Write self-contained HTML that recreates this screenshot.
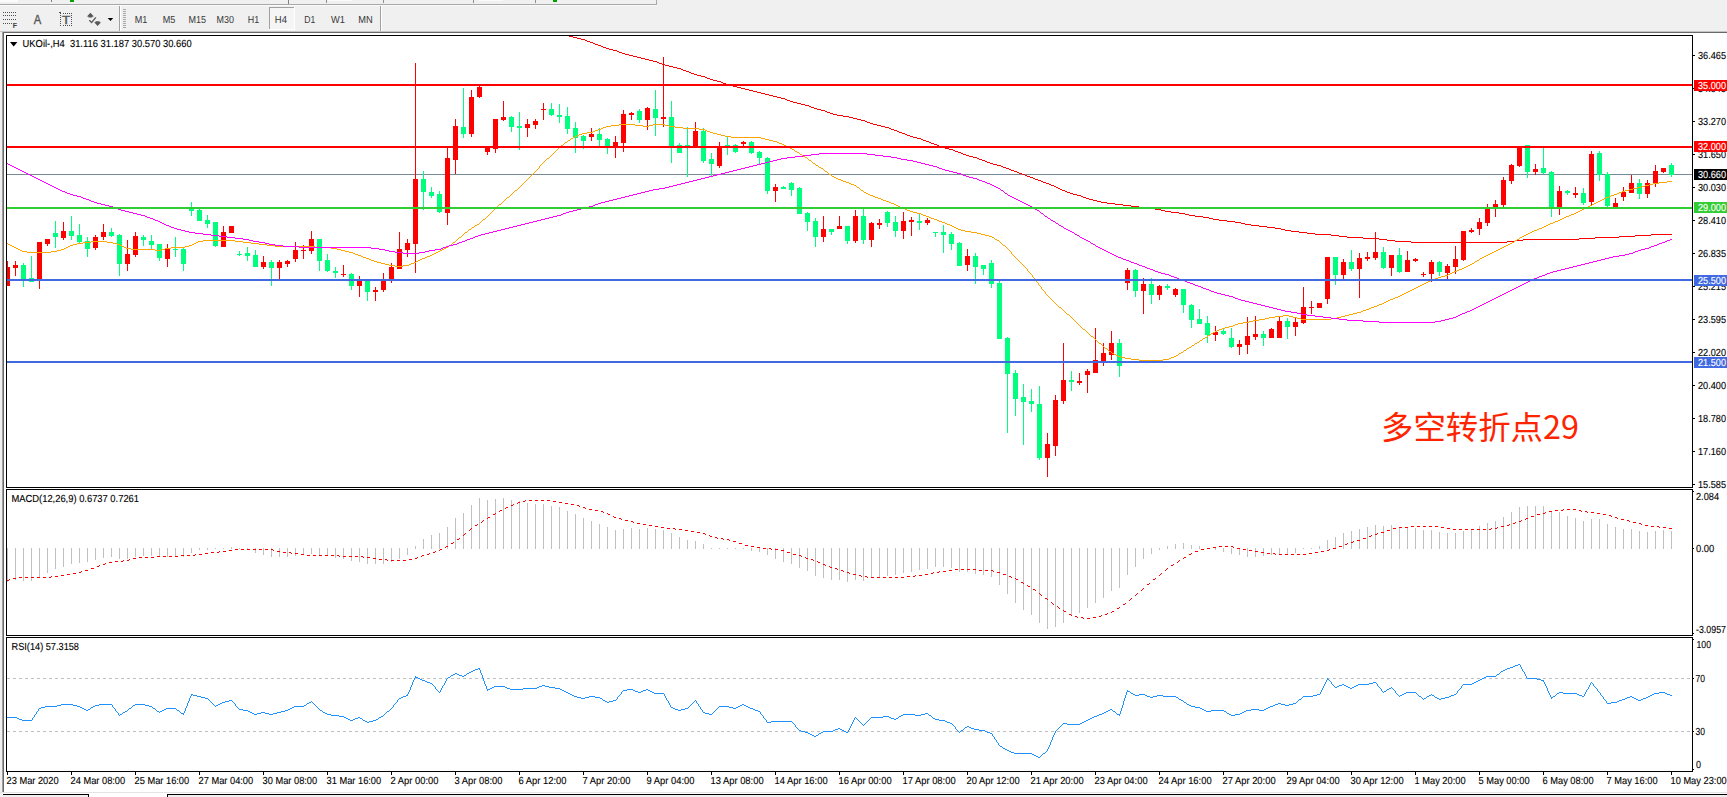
<!DOCTYPE html>
<html lang="zh"><head><meta charset="utf-8"><title>UKOil H4</title>
<style>html,body{margin:0;padding:0;background:#f0f0f0;overflow:hidden}svg{display:block}text{font-family:"Liberation Sans", "Noto Sans CJK SC", sans-serif;}.s{font-size:10.2px;fill:#000;stroke:#000;stroke-width:0.12px;text-rendering:geometricPrecision}.tb{font-size:10.2px;fill:#383838;text-rendering:geometricPrecision}</style></head><body>
<svg width="1727" height="797" viewBox="0 0 1727 797">
<rect x="0" y="0" width="1727" height="797" fill="#f0f0f0"/>
<g shape-rendering="crispEdges">
<rect x="0" y="4" width="657" height="1" fill="#a8a8a8"/>
<rect x="0" y="5" width="657" height="1" fill="#fafafa"/>
<rect x="656" y="0" width="1" height="5" fill="#a8a8a8"/>
<rect x="0" y="0" width="18" height="2" fill="#fbfbfb"/>
<rect x="51" y="0" width="1" height="2" fill="#808080"/>
<rect x="70" y="0" width="4" height="2" fill="#00a000"/>
<rect x="288" y="0" width="1" height="4" fill="#808080"/>
<rect x="326" y="0" width="1" height="3" fill="#909090"/>
<rect x="383" y="0" width="1" height="3" fill="#909090"/>
<rect x="473" y="0" width="1" height="3" fill="#909090"/>
<rect x="535" y="0" width="1" height="3" fill="#909090"/>
<rect x="328" y="0" width="24" height="1" fill="#fbfbfb"/>
<rect x="479" y="0" width="24" height="1" fill="#fbfbfb"/>
<rect x="553" y="0" width="4" height="2" fill="#00a000"/>
<rect x="119" y="6" width="1" height="25" fill="#a0a0a0"/>
<rect x="120" y="6" width="1" height="25" fill="#ffffff"/>
<rect x="380" y="6" width="1" height="25" fill="#a0a0a0"/>
<rect x="381" y="6" width="1" height="25" fill="#ffffff"/>
<rect x="123" y="9" width="3" height="1" fill="#a8a8a8"/>
<rect x="123" y="11" width="3" height="1" fill="#a8a8a8"/>
<rect x="123" y="13" width="3" height="1" fill="#a8a8a8"/>
<rect x="123" y="15" width="3" height="1" fill="#a8a8a8"/>
<rect x="123" y="17" width="3" height="1" fill="#a8a8a8"/>
<rect x="123" y="19" width="3" height="1" fill="#a8a8a8"/>
<rect x="123" y="21" width="3" height="1" fill="#a8a8a8"/>
<rect x="123" y="23" width="3" height="1" fill="#a8a8a8"/>
<rect x="123" y="25" width="3" height="1" fill="#a8a8a8"/>
<rect x="123" y="27" width="3" height="1" fill="#a8a8a8"/>
<rect x="3" y="12" width="1" height="1" fill="#505050"/>
<rect x="5" y="12" width="1" height="1" fill="#505050"/>
<rect x="7" y="12" width="1" height="1" fill="#505050"/>
<rect x="9" y="12" width="1" height="1" fill="#505050"/>
<rect x="11" y="12" width="1" height="1" fill="#505050"/>
<rect x="13" y="12" width="1" height="1" fill="#505050"/>
<rect x="15" y="12" width="1" height="1" fill="#505050"/>
<rect x="3" y="15" width="1" height="1" fill="#505050"/>
<rect x="5" y="15" width="1" height="1" fill="#505050"/>
<rect x="7" y="15" width="1" height="1" fill="#505050"/>
<rect x="9" y="15" width="1" height="1" fill="#505050"/>
<rect x="11" y="15" width="1" height="1" fill="#505050"/>
<rect x="13" y="15" width="1" height="1" fill="#505050"/>
<rect x="15" y="15" width="1" height="1" fill="#505050"/>
<rect x="3" y="19" width="1" height="1" fill="#505050"/>
<rect x="5" y="19" width="1" height="1" fill="#505050"/>
<rect x="7" y="19" width="1" height="1" fill="#505050"/>
<rect x="9" y="19" width="1" height="1" fill="#505050"/>
<rect x="11" y="19" width="1" height="1" fill="#505050"/>
<rect x="13" y="19" width="1" height="1" fill="#505050"/>
<rect x="15" y="19" width="1" height="1" fill="#505050"/>
<rect x="3" y="23" width="1" height="1" fill="#505050"/>
<rect x="5" y="23" width="1" height="1" fill="#505050"/>
<rect x="7" y="23" width="1" height="1" fill="#505050"/>
<rect x="9" y="23" width="1" height="1" fill="#505050"/>
<rect x="11" y="23" width="1" height="1" fill="#505050"/>
<rect x="60" y="13" width="1" height="1" fill="#505050"/>
<rect x="60" y="25" width="1" height="1" fill="#505050"/>
<rect x="63" y="13" width="1" height="1" fill="#505050"/>
<rect x="63" y="25" width="1" height="1" fill="#505050"/>
<rect x="65" y="13" width="1" height="1" fill="#505050"/>
<rect x="65" y="25" width="1" height="1" fill="#505050"/>
<rect x="67" y="13" width="1" height="1" fill="#505050"/>
<rect x="67" y="25" width="1" height="1" fill="#505050"/>
<rect x="69" y="13" width="1" height="1" fill="#505050"/>
<rect x="69" y="25" width="1" height="1" fill="#505050"/>
<rect x="71" y="13" width="1" height="1" fill="#505050"/>
<rect x="71" y="25" width="1" height="1" fill="#505050"/>
<rect x="60" y="15" width="1" height="1" fill="#505050"/>
<rect x="71" y="15" width="1" height="1" fill="#505050"/>
<rect x="60" y="17" width="1" height="1" fill="#505050"/>
<rect x="71" y="17" width="1" height="1" fill="#505050"/>
<rect x="60" y="19" width="1" height="1" fill="#505050"/>
<rect x="71" y="19" width="1" height="1" fill="#505050"/>
<rect x="60" y="21" width="1" height="1" fill="#505050"/>
<rect x="71" y="21" width="1" height="1" fill="#505050"/>
<rect x="60" y="23" width="1" height="1" fill="#505050"/>
<rect x="71" y="23" width="1" height="1" fill="#505050"/>
<rect x="59" y="12" width="2" height="1" fill="#505050"/>
<rect x="269" y="7" width="26" height="23" fill="#f5f5f5"/>
<rect x="269" y="7" width="26" height="1" fill="#a0a0a0"/>
<rect x="269" y="7" width="1" height="23" fill="#a0a0a0"/>
<rect x="294" y="7" width="1" height="23" fill="#ffffff"/>
<rect x="269" y="29" width="26" height="1" fill="#ffffff"/>
</g>
<text x="12.7" y="27.9" font-size="6.8" font-weight="bold" fill="#404040" textLength="4.3" lengthAdjust="spacingAndGlyphs">F</text>
<text x="33.8" y="23.9" font-size="12.3" fill="#585858" stroke="#585858" stroke-width="0.35" textLength="7.5" lengthAdjust="spacingAndGlyphs">A</text>
<text x="61.9" y="23.8" font-size="11" fill="#585858" stroke="#585858" stroke-width="0.4" textLength="8.2" lengthAdjust="spacingAndGlyphs">T</text>
<path d="M90.4 12.8 L93.9 16.4 L92.4 16.4 L92.4 17.5 L88.4 17.5 L88.4 16.4 L86.9 16.4 Z" fill="#585858"/>
<path d="M95.6 21.2 L99.6 21.2 L99.6 22.3 L101.1 22.3 L97.6 25.9 L94.1 22.3 L95.6 22.3 Z" fill="#585858"/>
<path d="M89.3 20.3 L91.6 22.5 L95.9 17.3" fill="none" stroke="#585858" stroke-width="1.3"/>
<path d="M107.7 18 L113.2 18 L110.45 21.1 Z" fill="#000"/>
<text class="tb" x="134.7" y="23" textLength="12.6" lengthAdjust="spacingAndGlyphs">M1</text>
<text class="tb" x="162.7" y="23" textLength="12.6" lengthAdjust="spacingAndGlyphs">M5</text>
<text class="tb" x="188.6" y="23" textLength="17.5" lengthAdjust="spacingAndGlyphs">M15</text>
<text class="tb" x="216.6" y="23" textLength="17.4" lengthAdjust="spacingAndGlyphs">M30</text>
<text class="tb" x="247.8" y="23" textLength="11.4" lengthAdjust="spacingAndGlyphs">H1</text>
<text class="tb" x="274.8" y="23" textLength="12.1" lengthAdjust="spacingAndGlyphs">H4</text>
<text class="tb" x="304.2" y="23" textLength="11.0" lengthAdjust="spacingAndGlyphs">D1</text>
<text class="tb" x="331" y="23" textLength="13.9" lengthAdjust="spacingAndGlyphs">W1</text>
<text class="tb" x="358.2" y="23" textLength="14.4" lengthAdjust="spacingAndGlyphs">MN</text>
<g shape-rendering="crispEdges">
<rect x="0" y="31" width="1727" height="1" fill="#c4c4c4"/>
<rect x="2" y="32" width="1725" height="1" fill="#696969"/>
<rect x="2" y="32" width="1" height="760" fill="#a0a0a0"/>
<rect x="3" y="32" width="1" height="760" fill="#696969"/>
<rect x="4" y="33" width="1723" height="759" fill="#ffffff"/>
<rect x="0" y="792" width="1727" height="1" fill="#e3e3e3"/>
<rect x="0" y="793" width="1727" height="4" fill="#ffffff"/>
<rect x="3" y="794" width="86" height="1" fill="#000"/>
<rect x="88" y="794" width="1" height="3" fill="#000"/>
<rect x="3" y="795" width="85" height="2" fill="#f0f0f0"/>
<rect x="167" y="794" width="1560" height="1" fill="#000"/>
<rect x="167" y="794" width="1" height="3" fill="#000"/>
<rect x="168" y="795" width="1559" height="2" fill="#f0f0f0"/>
<rect x="0" y="793" width="3" height="4" fill="#f0f0f0"/>
</g>
<rect x="6.5" y="35.5" width="1686" height="452" fill="#fff" stroke="#000" stroke-width="1" shape-rendering="crispEdges"/>
<rect x="6.5" y="489.5" width="1686" height="146" fill="#fff" stroke="#000" stroke-width="1" shape-rendering="crispEdges"/>
<rect x="6.5" y="637.5" width="1686" height="134" fill="#fff" stroke="#000" stroke-width="1" shape-rendering="crispEdges"/>
<clipPath id="cm"><rect x="7" y="36" width="1685" height="451"/></clipPath>
<clipPath id="c2"><rect x="7" y="490" width="1685" height="145"/></clipPath>
<clipPath id="c3"><rect x="7" y="638" width="1685" height="133"/></clipPath>
<g clip-path="url(#cm)" shape-rendering="crispEdges">
<rect x="7" y="174" width="1685" height="1" fill="#778899"/>
<rect x="7" y="261" width="1" height="25" fill="#ff0000"/>
<rect x="5" y="267" width="5" height="19" fill="#ff0000"/>
<rect x="15" y="261" width="1" height="15" fill="#ff0000"/>
<rect x="13" y="265" width="5" height="3" fill="#ff0000"/>
<rect x="23" y="263" width="1" height="24" fill="#00ff7f"/>
<rect x="21" y="265" width="5" height="15" fill="#00ff7f"/>
<rect x="31" y="256" width="1" height="26" fill="#00ff7f"/>
<rect x="29" y="278" width="5" height="4" fill="#00ff7f"/>
<rect x="39" y="242" width="1" height="47" fill="#ff0000"/>
<rect x="37" y="242" width="5" height="38" fill="#ff0000"/>
<rect x="47" y="239" width="1" height="7" fill="#ff0000"/>
<rect x="45" y="239" width="5" height="5" fill="#ff0000"/>
<rect x="55" y="221" width="1" height="27" fill="#00ff7f"/>
<rect x="53" y="233" width="5" height="4" fill="#00ff7f"/>
<rect x="63" y="222" width="1" height="18" fill="#ff0000"/>
<rect x="61" y="231" width="5" height="7" fill="#ff0000"/>
<rect x="71" y="216" width="1" height="24" fill="#00ff7f"/>
<rect x="69" y="231" width="5" height="5" fill="#00ff7f"/>
<rect x="79" y="224" width="1" height="20" fill="#00ff7f"/>
<rect x="77" y="235" width="5" height="7" fill="#00ff7f"/>
<rect x="87" y="237" width="1" height="20" fill="#00ff7f"/>
<rect x="85" y="241" width="5" height="8" fill="#00ff7f"/>
<rect x="95" y="235" width="1" height="15" fill="#ff0000"/>
<rect x="93" y="237" width="5" height="11" fill="#ff0000"/>
<rect x="103" y="224" width="1" height="16" fill="#ff0000"/>
<rect x="101" y="232" width="5" height="5" fill="#ff0000"/>
<rect x="111" y="228" width="1" height="9" fill="#00ff7f"/>
<rect x="109" y="232" width="5" height="4" fill="#00ff7f"/>
<rect x="119" y="234" width="1" height="42" fill="#00ff7f"/>
<rect x="117" y="235" width="5" height="29" fill="#00ff7f"/>
<rect x="127" y="240" width="1" height="31" fill="#ff0000"/>
<rect x="125" y="254" width="5" height="10" fill="#ff0000"/>
<rect x="135" y="232" width="1" height="25" fill="#ff0000"/>
<rect x="133" y="236" width="5" height="19" fill="#ff0000"/>
<rect x="143" y="235" width="1" height="11" fill="#00ff7f"/>
<rect x="141" y="237" width="5" height="3" fill="#00ff7f"/>
<rect x="151" y="235" width="1" height="14" fill="#00ff7f"/>
<rect x="149" y="241" width="5" height="4" fill="#00ff7f"/>
<rect x="159" y="244" width="1" height="17" fill="#00ff7f"/>
<rect x="157" y="244" width="5" height="14" fill="#00ff7f"/>
<rect x="167" y="244" width="1" height="23" fill="#ff0000"/>
<rect x="165" y="249" width="5" height="10" fill="#ff0000"/>
<rect x="175" y="237" width="1" height="20" fill="#00ff7f"/>
<rect x="173" y="249" width="5" height="1" fill="#00ff7f"/>
<rect x="183" y="248" width="1" height="23" fill="#00ff7f"/>
<rect x="181" y="249" width="5" height="15" fill="#00ff7f"/>
<rect x="191" y="202" width="1" height="14" fill="#00ff7f"/>
<rect x="189" y="209" width="5" height="2" fill="#00ff7f"/>
<rect x="199" y="209" width="1" height="12" fill="#00ff7f"/>
<rect x="197" y="210" width="5" height="11" fill="#00ff7f"/>
<rect x="207" y="215" width="1" height="13" fill="#00ff7f"/>
<rect x="205" y="220" width="5" height="4" fill="#00ff7f"/>
<rect x="215" y="222" width="1" height="25" fill="#00ff7f"/>
<rect x="213" y="222" width="5" height="24" fill="#00ff7f"/>
<rect x="223" y="226" width="1" height="21" fill="#ff0000"/>
<rect x="221" y="232" width="5" height="15" fill="#ff0000"/>
<rect x="231" y="226" width="1" height="7" fill="#ff0000"/>
<rect x="229" y="226" width="5" height="7" fill="#ff0000"/>
<rect x="239" y="251" width="1" height="5" fill="#00ff7f"/>
<rect x="237" y="254" width="5" height="1" fill="#00ff7f"/>
<rect x="247" y="247" width="1" height="14" fill="#00ff7f"/>
<rect x="245" y="253" width="5" height="3" fill="#00ff7f"/>
<rect x="255" y="250" width="1" height="17" fill="#00ff7f"/>
<rect x="253" y="255" width="5" height="12" fill="#00ff7f"/>
<rect x="263" y="256" width="1" height="13" fill="#ff0000"/>
<rect x="261" y="262" width="5" height="5" fill="#ff0000"/>
<rect x="271" y="260" width="1" height="26" fill="#00ff7f"/>
<rect x="269" y="262" width="5" height="6" fill="#00ff7f"/>
<rect x="279" y="260" width="1" height="19" fill="#ff0000"/>
<rect x="277" y="262" width="5" height="6" fill="#ff0000"/>
<rect x="287" y="260" width="1" height="7" fill="#ff0000"/>
<rect x="285" y="261" width="5" height="3" fill="#ff0000"/>
<rect x="295" y="242" width="1" height="20" fill="#ff0000"/>
<rect x="293" y="250" width="5" height="9" fill="#ff0000"/>
<rect x="303" y="245" width="1" height="14" fill="#ff0000"/>
<rect x="301" y="250" width="5" height="1" fill="#ff0000"/>
<rect x="311" y="231" width="1" height="23" fill="#ff0000"/>
<rect x="309" y="239" width="5" height="12" fill="#ff0000"/>
<rect x="319" y="239" width="1" height="32" fill="#00ff7f"/>
<rect x="317" y="239" width="5" height="22" fill="#00ff7f"/>
<rect x="327" y="254" width="1" height="18" fill="#00ff7f"/>
<rect x="325" y="260" width="5" height="11" fill="#00ff7f"/>
<rect x="335" y="267" width="1" height="11" fill="#00ff7f"/>
<rect x="333" y="271" width="5" height="2" fill="#00ff7f"/>
<rect x="343" y="265" width="1" height="12" fill="#ff0000"/>
<rect x="341" y="274" width="5" height="1" fill="#ff0000"/>
<rect x="351" y="273" width="1" height="17" fill="#00ff7f"/>
<rect x="349" y="274" width="5" height="12" fill="#00ff7f"/>
<rect x="359" y="276" width="1" height="21" fill="#ff0000"/>
<rect x="357" y="281" width="5" height="5" fill="#ff0000"/>
<rect x="367" y="281" width="1" height="20" fill="#00ff7f"/>
<rect x="365" y="281" width="5" height="11" fill="#00ff7f"/>
<rect x="375" y="287" width="1" height="14" fill="#ff0000"/>
<rect x="373" y="290" width="5" height="2" fill="#ff0000"/>
<rect x="383" y="273" width="1" height="19" fill="#ff0000"/>
<rect x="381" y="281" width="5" height="9" fill="#ff0000"/>
<rect x="391" y="263" width="1" height="20" fill="#ff0000"/>
<rect x="389" y="267" width="5" height="12" fill="#ff0000"/>
<rect x="399" y="232" width="1" height="37" fill="#ff0000"/>
<rect x="397" y="249" width="5" height="20" fill="#ff0000"/>
<rect x="407" y="239" width="1" height="18" fill="#ff0000"/>
<rect x="405" y="243" width="5" height="7" fill="#ff0000"/>
<rect x="415" y="63" width="1" height="210" fill="#ff0000"/>
<rect x="413" y="179" width="5" height="65" fill="#ff0000"/>
<rect x="423" y="171" width="1" height="39" fill="#00ff7f"/>
<rect x="421" y="179" width="5" height="13" fill="#00ff7f"/>
<rect x="431" y="187" width="1" height="11" fill="#00ff7f"/>
<rect x="429" y="192" width="5" height="4" fill="#00ff7f"/>
<rect x="439" y="191" width="1" height="22" fill="#00ff7f"/>
<rect x="437" y="194" width="5" height="18" fill="#00ff7f"/>
<rect x="447" y="148" width="1" height="77" fill="#ff0000"/>
<rect x="445" y="158" width="5" height="55" fill="#ff0000"/>
<rect x="455" y="119" width="1" height="55" fill="#ff0000"/>
<rect x="453" y="126" width="5" height="34" fill="#ff0000"/>
<rect x="463" y="88" width="1" height="50" fill="#00ff7f"/>
<rect x="461" y="127" width="5" height="7" fill="#00ff7f"/>
<rect x="471" y="90" width="1" height="47" fill="#ff0000"/>
<rect x="469" y="97" width="5" height="37" fill="#ff0000"/>
<rect x="479" y="86" width="1" height="12" fill="#ff0000"/>
<rect x="477" y="87" width="5" height="10" fill="#ff0000"/>
<rect x="487" y="146" width="1" height="9" fill="#ff0000"/>
<rect x="485" y="146" width="5" height="6" fill="#ff0000"/>
<rect x="495" y="119" width="1" height="34" fill="#ff0000"/>
<rect x="493" y="119" width="5" height="30" fill="#ff0000"/>
<rect x="503" y="101" width="1" height="20" fill="#ff0000"/>
<rect x="501" y="117" width="5" height="3" fill="#ff0000"/>
<rect x="511" y="116" width="1" height="16" fill="#00ff7f"/>
<rect x="509" y="117" width="5" height="10" fill="#00ff7f"/>
<rect x="519" y="112" width="1" height="38" fill="#00ff7f"/>
<rect x="517" y="126" width="5" height="2" fill="#00ff7f"/>
<rect x="527" y="119" width="1" height="18" fill="#ff0000"/>
<rect x="525" y="124" width="5" height="4" fill="#ff0000"/>
<rect x="535" y="119" width="1" height="10" fill="#ff0000"/>
<rect x="533" y="121" width="5" height="4" fill="#ff0000"/>
<rect x="543" y="103" width="1" height="17" fill="#ff0000"/>
<rect x="541" y="109" width="5" height="1" fill="#ff0000"/>
<rect x="551" y="103" width="1" height="13" fill="#00ff7f"/>
<rect x="549" y="109" width="5" height="6" fill="#00ff7f"/>
<rect x="559" y="104" width="1" height="19" fill="#00ff7f"/>
<rect x="557" y="115" width="5" height="2" fill="#00ff7f"/>
<rect x="567" y="107" width="1" height="27" fill="#00ff7f"/>
<rect x="565" y="116" width="5" height="13" fill="#00ff7f"/>
<rect x="575" y="122" width="1" height="31" fill="#00ff7f"/>
<rect x="573" y="128" width="5" height="10" fill="#00ff7f"/>
<rect x="583" y="135" width="1" height="14" fill="#00ff7f"/>
<rect x="581" y="136" width="5" height="5" fill="#00ff7f"/>
<rect x="591" y="128" width="1" height="13" fill="#ff0000"/>
<rect x="589" y="134" width="5" height="3" fill="#ff0000"/>
<rect x="599" y="128" width="1" height="19" fill="#00ff7f"/>
<rect x="597" y="134" width="5" height="6" fill="#00ff7f"/>
<rect x="607" y="138" width="1" height="16" fill="#00ff7f"/>
<rect x="605" y="139" width="5" height="7" fill="#00ff7f"/>
<rect x="615" y="136" width="1" height="22" fill="#ff0000"/>
<rect x="613" y="142" width="5" height="5" fill="#ff0000"/>
<rect x="623" y="110" width="1" height="42" fill="#ff0000"/>
<rect x="621" y="114" width="5" height="29" fill="#ff0000"/>
<rect x="631" y="112" width="1" height="8" fill="#ff0000"/>
<rect x="629" y="113" width="5" height="2" fill="#ff0000"/>
<rect x="639" y="109" width="1" height="14" fill="#00ff7f"/>
<rect x="637" y="111" width="5" height="9" fill="#00ff7f"/>
<rect x="647" y="107" width="1" height="23" fill="#ff0000"/>
<rect x="645" y="108" width="5" height="12" fill="#ff0000"/>
<rect x="655" y="90" width="1" height="46" fill="#00ff7f"/>
<rect x="653" y="109" width="5" height="9" fill="#00ff7f"/>
<rect x="663" y="57" width="1" height="70" fill="#ff0000"/>
<rect x="661" y="117" width="5" height="2" fill="#ff0000"/>
<rect x="671" y="101" width="1" height="62" fill="#00ff7f"/>
<rect x="669" y="117" width="5" height="29" fill="#00ff7f"/>
<rect x="679" y="143" width="1" height="10" fill="#00ff7f"/>
<rect x="677" y="145" width="5" height="8" fill="#00ff7f"/>
<rect x="687" y="127" width="1" height="50" fill="#00ff7f"/>
<rect x="685" y="145" width="5" height="1" fill="#00ff7f"/>
<rect x="695" y="122" width="1" height="25" fill="#ff0000"/>
<rect x="693" y="131" width="5" height="16" fill="#ff0000"/>
<rect x="703" y="128" width="1" height="35" fill="#00ff7f"/>
<rect x="701" y="131" width="5" height="30" fill="#00ff7f"/>
<rect x="711" y="153" width="1" height="23" fill="#00ff7f"/>
<rect x="709" y="159" width="5" height="5" fill="#00ff7f"/>
<rect x="719" y="142" width="1" height="26" fill="#ff0000"/>
<rect x="717" y="146" width="5" height="20" fill="#ff0000"/>
<rect x="727" y="137" width="1" height="18" fill="#00ff7f"/>
<rect x="725" y="145" width="5" height="2" fill="#00ff7f"/>
<rect x="735" y="144" width="1" height="9" fill="#00ff7f"/>
<rect x="733" y="145" width="5" height="7" fill="#00ff7f"/>
<rect x="743" y="141" width="1" height="5" fill="#ff0000"/>
<rect x="741" y="142" width="5" height="2" fill="#ff0000"/>
<rect x="751" y="141" width="1" height="13" fill="#00ff7f"/>
<rect x="749" y="142" width="5" height="11" fill="#00ff7f"/>
<rect x="759" y="151" width="1" height="14" fill="#00ff7f"/>
<rect x="757" y="152" width="5" height="6" fill="#00ff7f"/>
<rect x="767" y="157" width="1" height="37" fill="#00ff7f"/>
<rect x="765" y="158" width="5" height="33" fill="#00ff7f"/>
<rect x="775" y="184" width="1" height="18" fill="#ff0000"/>
<rect x="773" y="187" width="5" height="4" fill="#ff0000"/>
<rect x="783" y="186" width="1" height="3" fill="#00ff7f"/>
<rect x="781" y="187" width="5" height="2" fill="#00ff7f"/>
<rect x="791" y="182" width="1" height="14" fill="#00ff7f"/>
<rect x="789" y="183" width="5" height="7" fill="#00ff7f"/>
<rect x="799" y="187" width="1" height="27" fill="#00ff7f"/>
<rect x="797" y="188" width="5" height="26" fill="#00ff7f"/>
<rect x="807" y="212" width="1" height="19" fill="#00ff7f"/>
<rect x="805" y="213" width="5" height="9" fill="#00ff7f"/>
<rect x="815" y="218" width="1" height="29" fill="#00ff7f"/>
<rect x="813" y="221" width="5" height="16" fill="#00ff7f"/>
<rect x="823" y="216" width="1" height="26" fill="#ff0000"/>
<rect x="821" y="229" width="5" height="8" fill="#ff0000"/>
<rect x="831" y="229" width="1" height="6" fill="#00ff7f"/>
<rect x="829" y="229" width="5" height="3" fill="#00ff7f"/>
<rect x="839" y="216" width="1" height="13" fill="#ff0000"/>
<rect x="837" y="226" width="5" height="3" fill="#ff0000"/>
<rect x="847" y="226" width="1" height="18" fill="#00ff7f"/>
<rect x="845" y="226" width="5" height="15" fill="#00ff7f"/>
<rect x="855" y="210" width="1" height="33" fill="#ff0000"/>
<rect x="853" y="216" width="5" height="25" fill="#ff0000"/>
<rect x="863" y="209" width="1" height="35" fill="#00ff7f"/>
<rect x="861" y="216" width="5" height="24" fill="#00ff7f"/>
<rect x="871" y="222" width="1" height="25" fill="#ff0000"/>
<rect x="869" y="223" width="5" height="17" fill="#ff0000"/>
<rect x="879" y="219" width="1" height="10" fill="#ff0000"/>
<rect x="877" y="223" width="5" height="2" fill="#ff0000"/>
<rect x="887" y="211" width="1" height="16" fill="#00ff7f"/>
<rect x="885" y="212" width="5" height="11" fill="#00ff7f"/>
<rect x="895" y="216" width="1" height="21" fill="#00ff7f"/>
<rect x="893" y="222" width="5" height="9" fill="#00ff7f"/>
<rect x="903" y="212" width="1" height="27" fill="#ff0000"/>
<rect x="901" y="221" width="5" height="10" fill="#ff0000"/>
<rect x="911" y="217" width="1" height="19" fill="#ff0000"/>
<rect x="909" y="220" width="5" height="2" fill="#ff0000"/>
<rect x="919" y="214" width="1" height="16" fill="#00ff7f"/>
<rect x="917" y="221" width="5" height="2" fill="#00ff7f"/>
<rect x="927" y="218" width="1" height="7" fill="#ff0000"/>
<rect x="925" y="220" width="5" height="3" fill="#ff0000"/>
<rect x="935" y="232" width="1" height="5" fill="#00ff7f"/>
<rect x="933" y="232" width="5" height="1" fill="#00ff7f"/>
<rect x="943" y="225" width="1" height="28" fill="#00ff7f"/>
<rect x="941" y="232" width="5" height="3" fill="#00ff7f"/>
<rect x="951" y="232" width="1" height="18" fill="#00ff7f"/>
<rect x="949" y="234" width="5" height="10" fill="#00ff7f"/>
<rect x="959" y="242" width="1" height="24" fill="#00ff7f"/>
<rect x="957" y="243" width="5" height="23" fill="#00ff7f"/>
<rect x="967" y="249" width="1" height="22" fill="#ff0000"/>
<rect x="965" y="256" width="5" height="9" fill="#ff0000"/>
<rect x="975" y="253" width="1" height="31" fill="#00ff7f"/>
<rect x="973" y="256" width="5" height="11" fill="#00ff7f"/>
<rect x="983" y="265" width="1" height="10" fill="#00ff7f"/>
<rect x="981" y="265" width="5" height="4" fill="#00ff7f"/>
<rect x="991" y="260" width="1" height="28" fill="#00ff7f"/>
<rect x="989" y="263" width="5" height="21" fill="#00ff7f"/>
<rect x="999" y="281" width="1" height="58" fill="#00ff7f"/>
<rect x="997" y="283" width="5" height="56" fill="#00ff7f"/>
<rect x="1007" y="337" width="1" height="96" fill="#00ff7f"/>
<rect x="1005" y="338" width="5" height="36" fill="#00ff7f"/>
<rect x="1015" y="370" width="1" height="46" fill="#00ff7f"/>
<rect x="1013" y="373" width="5" height="26" fill="#00ff7f"/>
<rect x="1023" y="384" width="1" height="61" fill="#00ff7f"/>
<rect x="1021" y="397" width="5" height="5" fill="#00ff7f"/>
<rect x="1031" y="389" width="1" height="23" fill="#00ff7f"/>
<rect x="1029" y="401" width="5" height="3" fill="#00ff7f"/>
<rect x="1039" y="386" width="1" height="74" fill="#00ff7f"/>
<rect x="1037" y="404" width="5" height="54" fill="#00ff7f"/>
<rect x="1047" y="433" width="1" height="44" fill="#ff0000"/>
<rect x="1045" y="444" width="5" height="14" fill="#ff0000"/>
<rect x="1055" y="395" width="1" height="61" fill="#ff0000"/>
<rect x="1053" y="400" width="5" height="46" fill="#ff0000"/>
<rect x="1063" y="343" width="1" height="61" fill="#ff0000"/>
<rect x="1061" y="380" width="5" height="21" fill="#ff0000"/>
<rect x="1071" y="371" width="1" height="20" fill="#00ff7f"/>
<rect x="1069" y="380" width="5" height="2" fill="#00ff7f"/>
<rect x="1079" y="373" width="1" height="12" fill="#ff0000"/>
<rect x="1077" y="381" width="5" height="2" fill="#ff0000"/>
<rect x="1087" y="369" width="1" height="24" fill="#ff0000"/>
<rect x="1085" y="371" width="5" height="4" fill="#ff0000"/>
<rect x="1095" y="328" width="1" height="45" fill="#ff0000"/>
<rect x="1093" y="360" width="5" height="13" fill="#ff0000"/>
<rect x="1103" y="343" width="1" height="23" fill="#ff0000"/>
<rect x="1101" y="353" width="5" height="9" fill="#ff0000"/>
<rect x="1111" y="331" width="1" height="29" fill="#ff0000"/>
<rect x="1109" y="343" width="5" height="12" fill="#ff0000"/>
<rect x="1119" y="339" width="1" height="38" fill="#00ff7f"/>
<rect x="1117" y="343" width="5" height="23" fill="#00ff7f"/>
<rect x="1127" y="268" width="1" height="22" fill="#ff0000"/>
<rect x="1125" y="270" width="5" height="13" fill="#ff0000"/>
<rect x="1135" y="269" width="1" height="28" fill="#00ff7f"/>
<rect x="1133" y="270" width="5" height="21" fill="#00ff7f"/>
<rect x="1143" y="278" width="1" height="36" fill="#ff0000"/>
<rect x="1141" y="284" width="5" height="7" fill="#ff0000"/>
<rect x="1151" y="278" width="1" height="26" fill="#00ff7f"/>
<rect x="1149" y="284" width="5" height="11" fill="#00ff7f"/>
<rect x="1159" y="285" width="1" height="15" fill="#ff0000"/>
<rect x="1157" y="286" width="5" height="9" fill="#ff0000"/>
<rect x="1167" y="284" width="1" height="6" fill="#00ff7f"/>
<rect x="1165" y="286" width="5" height="2" fill="#00ff7f"/>
<rect x="1175" y="288" width="1" height="9" fill="#ff0000"/>
<rect x="1173" y="289" width="5" height="6" fill="#ff0000"/>
<rect x="1183" y="289" width="1" height="24" fill="#00ff7f"/>
<rect x="1181" y="289" width="5" height="16" fill="#00ff7f"/>
<rect x="1191" y="304" width="1" height="24" fill="#00ff7f"/>
<rect x="1189" y="305" width="5" height="15" fill="#00ff7f"/>
<rect x="1199" y="309" width="1" height="15" fill="#00ff7f"/>
<rect x="1197" y="319" width="5" height="5" fill="#00ff7f"/>
<rect x="1207" y="316" width="1" height="27" fill="#00ff7f"/>
<rect x="1205" y="323" width="5" height="12" fill="#00ff7f"/>
<rect x="1215" y="326" width="1" height="15" fill="#ff0000"/>
<rect x="1213" y="332" width="5" height="3" fill="#ff0000"/>
<rect x="1223" y="329" width="1" height="6" fill="#00ff7f"/>
<rect x="1221" y="331" width="5" height="3" fill="#00ff7f"/>
<rect x="1231" y="328" width="1" height="20" fill="#00ff7f"/>
<rect x="1229" y="338" width="5" height="9" fill="#00ff7f"/>
<rect x="1239" y="340" width="1" height="15" fill="#ff0000"/>
<rect x="1237" y="344" width="5" height="3" fill="#ff0000"/>
<rect x="1247" y="317" width="1" height="37" fill="#ff0000"/>
<rect x="1245" y="336" width="5" height="9" fill="#ff0000"/>
<rect x="1255" y="316" width="1" height="24" fill="#ff0000"/>
<rect x="1253" y="334" width="5" height="3" fill="#ff0000"/>
<rect x="1263" y="331" width="1" height="15" fill="#00ff7f"/>
<rect x="1261" y="334" width="5" height="4" fill="#00ff7f"/>
<rect x="1271" y="328" width="1" height="10" fill="#ff0000"/>
<rect x="1269" y="329" width="5" height="9" fill="#ff0000"/>
<rect x="1279" y="316" width="1" height="22" fill="#ff0000"/>
<rect x="1277" y="321" width="5" height="17" fill="#ff0000"/>
<rect x="1287" y="318" width="1" height="21" fill="#00ff7f"/>
<rect x="1285" y="321" width="5" height="6" fill="#00ff7f"/>
<rect x="1295" y="317" width="1" height="19" fill="#ff0000"/>
<rect x="1293" y="322" width="5" height="5" fill="#ff0000"/>
<rect x="1303" y="287" width="1" height="37" fill="#ff0000"/>
<rect x="1301" y="307" width="5" height="16" fill="#ff0000"/>
<rect x="1311" y="301" width="1" height="13" fill="#ff0000"/>
<rect x="1309" y="307" width="5" height="1" fill="#ff0000"/>
<rect x="1319" y="303" width="1" height="5" fill="#ff0000"/>
<rect x="1317" y="303" width="5" height="5" fill="#ff0000"/>
<rect x="1327" y="257" width="1" height="47" fill="#ff0000"/>
<rect x="1325" y="257" width="5" height="42" fill="#ff0000"/>
<rect x="1335" y="257" width="1" height="28" fill="#00ff7f"/>
<rect x="1333" y="257" width="5" height="18" fill="#00ff7f"/>
<rect x="1343" y="259" width="1" height="20" fill="#ff0000"/>
<rect x="1341" y="262" width="5" height="13" fill="#ff0000"/>
<rect x="1351" y="250" width="1" height="21" fill="#00ff7f"/>
<rect x="1349" y="262" width="5" height="7" fill="#00ff7f"/>
<rect x="1359" y="253" width="1" height="45" fill="#ff0000"/>
<rect x="1357" y="258" width="5" height="11" fill="#ff0000"/>
<rect x="1367" y="252" width="1" height="9" fill="#ff0000"/>
<rect x="1365" y="257" width="5" height="2" fill="#ff0000"/>
<rect x="1375" y="232" width="1" height="28" fill="#ff0000"/>
<rect x="1373" y="252" width="5" height="6" fill="#ff0000"/>
<rect x="1383" y="247" width="1" height="22" fill="#00ff7f"/>
<rect x="1381" y="252" width="5" height="16" fill="#00ff7f"/>
<rect x="1391" y="255" width="1" height="21" fill="#ff0000"/>
<rect x="1389" y="255" width="5" height="13" fill="#ff0000"/>
<rect x="1399" y="248" width="1" height="25" fill="#00ff7f"/>
<rect x="1397" y="255" width="5" height="17" fill="#00ff7f"/>
<rect x="1407" y="251" width="1" height="21" fill="#ff0000"/>
<rect x="1405" y="260" width="5" height="12" fill="#ff0000"/>
<rect x="1415" y="258" width="1" height="4" fill="#ff0000"/>
<rect x="1413" y="259" width="5" height="2" fill="#ff0000"/>
<rect x="1423" y="272" width="1" height="5" fill="#ff0000"/>
<rect x="1421" y="274" width="5" height="1" fill="#ff0000"/>
<rect x="1431" y="260" width="1" height="22" fill="#ff0000"/>
<rect x="1429" y="262" width="5" height="12" fill="#ff0000"/>
<rect x="1439" y="261" width="1" height="15" fill="#00ff7f"/>
<rect x="1437" y="262" width="5" height="10" fill="#00ff7f"/>
<rect x="1447" y="264" width="1" height="15" fill="#ff0000"/>
<rect x="1445" y="266" width="5" height="7" fill="#ff0000"/>
<rect x="1455" y="246" width="1" height="28" fill="#ff0000"/>
<rect x="1453" y="259" width="5" height="8" fill="#ff0000"/>
<rect x="1463" y="231" width="1" height="30" fill="#ff0000"/>
<rect x="1461" y="231" width="5" height="29" fill="#ff0000"/>
<rect x="1471" y="228" width="1" height="5" fill="#ff0000"/>
<rect x="1469" y="230" width="5" height="2" fill="#ff0000"/>
<rect x="1479" y="218" width="1" height="17" fill="#ff0000"/>
<rect x="1477" y="222" width="5" height="7" fill="#ff0000"/>
<rect x="1487" y="204" width="1" height="22" fill="#ff0000"/>
<rect x="1485" y="208" width="5" height="15" fill="#ff0000"/>
<rect x="1495" y="200" width="1" height="17" fill="#ff0000"/>
<rect x="1493" y="204" width="5" height="3" fill="#ff0000"/>
<rect x="1503" y="177" width="1" height="30" fill="#ff0000"/>
<rect x="1501" y="180" width="5" height="25" fill="#ff0000"/>
<rect x="1511" y="164" width="1" height="20" fill="#ff0000"/>
<rect x="1509" y="165" width="5" height="16" fill="#ff0000"/>
<rect x="1519" y="146" width="1" height="21" fill="#ff0000"/>
<rect x="1517" y="147" width="5" height="19" fill="#ff0000"/>
<rect x="1527" y="145" width="1" height="33" fill="#00ff7f"/>
<rect x="1525" y="145" width="5" height="27" fill="#00ff7f"/>
<rect x="1535" y="164" width="1" height="11" fill="#ff0000"/>
<rect x="1533" y="169" width="5" height="3" fill="#ff0000"/>
<rect x="1543" y="148" width="1" height="26" fill="#00ff7f"/>
<rect x="1541" y="168" width="5" height="5" fill="#00ff7f"/>
<rect x="1551" y="171" width="1" height="46" fill="#00ff7f"/>
<rect x="1549" y="172" width="5" height="36" fill="#00ff7f"/>
<rect x="1559" y="186" width="1" height="29" fill="#ff0000"/>
<rect x="1557" y="191" width="5" height="17" fill="#ff0000"/>
<rect x="1567" y="190" width="1" height="5" fill="#00ff7f"/>
<rect x="1565" y="191" width="5" height="2" fill="#00ff7f"/>
<rect x="1575" y="187" width="1" height="11" fill="#ff0000"/>
<rect x="1573" y="193" width="5" height="2" fill="#ff0000"/>
<rect x="1583" y="188" width="1" height="17" fill="#00ff7f"/>
<rect x="1581" y="193" width="5" height="10" fill="#00ff7f"/>
<rect x="1591" y="151" width="1" height="54" fill="#ff0000"/>
<rect x="1589" y="154" width="5" height="48" fill="#ff0000"/>
<rect x="1599" y="151" width="1" height="30" fill="#00ff7f"/>
<rect x="1597" y="153" width="5" height="22" fill="#00ff7f"/>
<rect x="1607" y="172" width="1" height="35" fill="#00ff7f"/>
<rect x="1605" y="174" width="5" height="32" fill="#00ff7f"/>
<rect x="1615" y="198" width="1" height="9" fill="#ff0000"/>
<rect x="1613" y="203" width="5" height="4" fill="#ff0000"/>
<rect x="1623" y="187" width="1" height="14" fill="#ff0000"/>
<rect x="1621" y="192" width="5" height="5" fill="#ff0000"/>
<rect x="1631" y="175" width="1" height="18" fill="#ff0000"/>
<rect x="1629" y="183" width="5" height="10" fill="#ff0000"/>
<rect x="1639" y="179" width="1" height="20" fill="#00ff7f"/>
<rect x="1637" y="183" width="5" height="11" fill="#00ff7f"/>
<rect x="1647" y="180" width="1" height="18" fill="#ff0000"/>
<rect x="1645" y="183" width="5" height="11" fill="#ff0000"/>
<rect x="1655" y="165" width="1" height="22" fill="#ff0000"/>
<rect x="1653" y="171" width="5" height="13" fill="#ff0000"/>
<rect x="1663" y="168" width="1" height="5" fill="#ff0000"/>
<rect x="1661" y="168" width="5" height="4" fill="#ff0000"/>
<rect x="1671" y="163" width="1" height="14" fill="#00ff7f"/>
<rect x="1669" y="165" width="5" height="10" fill="#00ff7f"/>
<path d="M567 35h2M569 36h4M573 37h4M577 38h4M581 39h4M585 40h2M587 41h3M590 42h3M593 43h2M595 44h3M598 45h3M601 46h2M603 47h3M606 48h3M609 49h4M613 50h4M617 51h2M619 52h3M622 53h3M625 54h4M629 55h4M633 56h4M637 57h4M641 58h4M645 59h4M649 60h4M653 61h4M657 62h2M659 63h3M662 64h3M665 65h4M669 66h4M673 67h4M677 68h4M681 69h2M683 70h3M686 71h3M689 72h2M691 73h3M694 74h3M697 75h4M701 76h4M705 77h2M707 78h3M710 79h3M713 80h4M717 81h4M721 82h2M723 83h3M726 84h3M729 85h4M733 86h4M737 87h4M741 88h4M745 89h4M749 90h4M753 91h4M757 92h4M761 93h4M765 94h4M769 95h4M773 96h4M777 97h4M781 98h4M785 99h2M787 100h3M790 101h3M793 102h4M797 103h4M801 104h4M805 105h4M809 106h2M811 107h3M814 108h3M817 109h4M821 110h4M825 111h2M827 112h3M830 113h3M833 114h4M837 115h6M843 116h6M849 117h4M853 118h4M857 119h4M861 120h4M865 121h2M867 122h3M870 123h3M873 124h4M877 125h4M881 126h4M885 127h4M889 128h2M891 129h3M894 130h3M897 131h2M899 132h3M902 133h3M905 134h2M907 135h3M910 136h3M913 137h4M917 138h4M921 139h2M923 140h3M926 141h3M929 142h2M931 143h3M934 144h3M937 145h2M939 146h3M942 147h3M945 148h4M949 149h4M953 150h2M955 151h3M958 152h3M961 153h2M963 154h3M966 155h3M969 156h4M973 157h4M977 158h2M979 159h3M982 160h3M985 161h2M987 162h3M990 163h3M993 164h4M997 165h4M1001 166h2M1003 167h3M1006 168h3M1009 169h2M1011 170h3M1014 171h3M1017 172h2M1019 173h3M1022 174h3M1025 175h2M1027 176h3M1030 177h3M1033 178h2M1035 179h3M1038 180h3M1041 181h2M1043 182h3M1046 183h3M1049 184h2M1051 185h3M1054 186h2M1056 187h2M1058 188h2M1060 189h2M1062 190h3M1065 191h2M1067 192h3M1070 193h3M1073 194h4M1077 195h4M1081 196h2M1083 197h3M1086 198h3M1089 199h4M1093 200h4M1097 201h4M1101 202h6M1107 203h8M1115 204h8M1123 205h8M1131 206h8M1139 207h8M1147 208h8M1155 209h6M1161 210h4M1165 211h6M1171 212h8M1179 213h6M1185 214h4M1189 215h6M1195 216h8M1203 217h6M1209 218h4M1213 219h6M1219 220h8M1227 221h8M1235 222h6M1241 223h4M1245 224h6M1251 225h8M1259 226h8M1267 227h8M1275 228h6M1281 229h4M1285 230h6M1291 231h8M1299 232h8M1307 233h8M1315 234h16M1651 234h21M1331 235h8M1635 235h16M1339 236h8M1619 236h16M1347 237h16M1595 237h24M1363 238h16M1579 238h16M1379 239h8M1523 239h56M1387 240h8M1515 240h8M1395 241h16M1507 241h8M1411 242h96" transform="translate(0 0.5)" fill="none" stroke="#ff0000" stroke-width="1"/>
<path d="M619 124h16M653 124h12M611 125h8M635 125h8M649 125h4M665 125h4M606 126h5M643 126h6M669 126h6M603 127h3M675 127h8M601 128h2M683 128h16M598 129h3M699 129h6M595 130h3M705 130h2M593 131h2M707 131h3M587 132h6M710 132h3M582 133h5M713 133h4M579 134h3M717 134h4M577 135h2M721 135h4M575 136h2M725 136h6M573 137h2M731 137h30M571 138h2M761 138h4M570 139h1M765 139h4M568 140h2M769 140h4M567 141h1M773 141h4M565 142h2M777 142h2M564 143h1M779 143h3M563 144h1M782 144h2M561 145h2M784 145h2M560 146h1M786 146h2M559 147h1M788 147h2M558 148h1M790 148h2M557 149h1M792 149h2M556 150h1M794 150h1M555 151h1M795 151h2M554 152h1M797 152h2M553 153h1M799 153h1M552 154h1M800 154h2M551 155h1M802 155h1M550 156h1M803 156h2M549 157h1M805 157h2M547 158h2M807 158h1M546 159h1M808 159h1M545 160h1M809 160h2M544 161h1M811 161h1M543 162h1M812 162h1M542 163h1M813 163h2M541 164h1M815 164h1M540 165h1M816 165h2M539 166h1M818 166h1M539 167h1M819 167h2M538 168h1M821 168h2M537 169h1M823 169h1M536 170h1M824 170h1M535 171h1M825 171h2M534 172h1M827 172h1M533 173h1M828 173h1M532 174h1M829 174h2M531 175h1M831 175h1M530 176h1M832 176h2M529 177h1M834 177h2M528 178h1M836 178h2M527 179h1M838 179h3M526 180h1M841 180h2M525 181h1M843 181h3M1667 181h5M524 182h1M846 182h3M1659 182h8M523 183h1M849 183h2M1653 183h6M522 184h1M851 184h3M1649 184h4M521 185h1M854 185h2M1645 185h4M520 186h1M856 186h1M1641 186h4M519 187h1M857 187h2M1637 187h4M518 188h1M859 188h1M1633 188h4M517 189h1M860 189h1M1629 189h4M515 190h2M861 190h2M1625 190h4M514 191h1M863 191h1M1622 191h3M513 192h1M864 192h2M1619 192h3M512 193h1M866 193h2M1617 193h2M511 194h1M868 194h2M1614 194h3M510 195h1M870 195h3M1611 195h3M509 196h1M873 196h2M1609 196h2M507 197h2M875 197h3M1606 197h3M506 198h1M878 198h3M1604 198h2M505 199h1M881 199h2M1602 199h2M504 200h1M883 200h3M1600 200h2M503 201h1M886 201h3M1598 201h2M502 202h1M889 202h2M1596 202h2M501 203h1M891 203h3M1594 203h2M499 204h2M894 204h2M1592 204h2M498 205h1M896 205h2M1590 205h2M497 206h1M898 206h2M1588 206h2M496 207h1M900 207h2M1586 207h2M495 208h1M902 208h3M1584 208h2M494 209h1M905 209h2M1582 209h2M493 210h1M907 210h3M1580 210h2M492 211h1M910 211h3M1578 211h2M491 212h1M913 212h4M1576 212h2M490 213h1M917 213h4M1574 213h2M489 214h1M921 214h2M1571 214h3M488 215h1M923 215h3M1569 215h2M487 216h1M926 216h3M1566 216h3M486 217h1M929 217h2M1564 217h2M485 218h1M931 218h3M1562 218h2M483 219h2M934 219h3M1560 219h2M482 220h1M937 220h2M1558 220h2M481 221h1M939 221h3M1555 221h3M480 222h1M942 222h3M1553 222h2M479 223h1M945 223h2M1550 223h3M477 224h2M947 224h3M1548 224h2M475 225h2M950 225h2M1546 225h2M474 226h1M952 226h2M1544 226h2M472 227h2M954 227h2M1542 227h2M471 228h1M956 228h2M1539 228h3M469 229h2M958 229h3M1537 229h2M468 230h1M961 230h4M1534 230h3M467 231h1M965 231h6M1532 231h2M465 232h2M971 232h6M1530 232h2M464 233h1M977 233h4M1528 233h2M463 234h1M981 234h4M1526 234h2M462 235h1M985 235h4M1524 235h2M461 236h1M989 236h3M1522 236h2M459 237h2M992 237h2M1520 237h2M458 238h1M994 238h1M1519 238h1M457 239h1M995 239h2M1517 239h2M203 240h32M456 240h1M997 240h2M1515 240h2M91 241h16M198 241h5M235 241h8M455 241h1M999 241h1M1514 241h1M83 242h8M107 242h6M196 242h2M243 242h8M453 242h2M1000 242h1M1512 242h2M7 243h1M77 243h6M113 243h4M194 243h2M251 243h8M452 243h1M1001 243h1M1510 243h2M8 244h2M73 244h4M117 244h3M192 244h2M259 244h8M451 244h1M1002 244h1M1508 244h2M10 245h2M70 245h3M120 245h2M189 245h3M267 245h8M449 245h2M1003 245h2M1506 245h2M12 246h2M68 246h2M122 246h2M185 246h4M275 246h40M448 246h1M1005 246h1M1504 246h2M14 247h2M66 247h2M124 247h2M171 247h14M315 247h16M446 247h2M1006 247h1M1502 247h2M16 248h2M64 248h2M126 248h5M165 248h6M331 248h6M444 248h2M1007 248h1M1500 248h2M18 249h2M61 249h3M131 249h24M161 249h4M337 249h4M442 249h2M1008 249h1M1498 249h2M20 250h2M57 250h4M155 250h6M341 250h4M440 250h2M1009 250h1M1496 250h2M22 251h5M51 251h6M345 251h4M438 251h2M1010 251h1M1494 251h2M27 252h24M349 252h4M436 252h2M1011 252h1M1492 252h2M353 253h2M434 253h2M1011 253h1M1490 253h2M355 254h3M432 254h2M1012 254h1M1488 254h2M358 255h3M430 255h2M1013 255h1M1486 255h2M361 256h2M427 256h3M1014 256h1M1484 256h2M363 257h3M425 257h2M1015 257h1M1482 257h2M366 258h3M422 258h3M1016 258h1M1480 258h2M369 259h2M420 259h2M1017 259h1M1479 259h1M371 260h3M418 260h2M1018 260h1M1477 260h2M374 261h3M416 261h2M1019 261h1M1475 261h2M377 262h4M414 262h2M1020 262h1M1474 262h1M381 263h4M411 263h3M1021 263h1M1472 263h2M385 264h4M409 264h2M1022 264h1M1470 264h2M389 265h6M403 265h6M1023 265h1M1468 265h2M395 266h8M1024 266h1M1466 266h2M1025 267h1M1464 267h2M1026 268h1M1462 268h2M1027 269h1M1459 269h3M1027 270h1M1457 270h2M1028 271h1M1454 271h3M1029 272h1M1452 272h2M1030 273h1M1450 273h2M1031 274h1M1448 274h2M1032 275h1M1445 275h3M1032 276h1M1441 276h4M1033 277h1M1438 277h3M1034 278h1M1435 278h3M1035 279h1M1433 279h2M1035 280h1M1430 280h3M1036 281h1M1428 281h2M1037 282h1M1426 282h2M1038 283h1M1424 283h2M1038 284h1M1422 284h2M1039 285h1M1420 285h2M1040 286h1M1418 286h2M1041 287h1M1416 287h2M1041 288h1M1414 288h2M1042 289h1M1412 289h2M1043 290h1M1410 290h2M1044 291h1M1408 291h2M1045 292h1M1406 292h2M1045 293h1M1404 293h2M1046 294h1M1402 294h2M1047 295h1M1400 295h2M1048 296h1M1398 296h2M1049 297h1M1395 297h3M1050 298h1M1393 298h2M1051 299h1M1390 299h3M1052 300h1M1388 300h2M1053 301h1M1386 301h2M1054 302h1M1384 302h2M1055 303h1M1382 303h2M1056 304h1M1379 304h3M1057 305h1M1377 305h2M1058 306h1M1374 306h3M1059 307h2M1371 307h3M1061 308h1M1369 308h2M1062 309h1M1366 309h3M1063 310h1M1363 310h3M1064 311h1M1361 311h2M1065 312h1M1357 312h4M1066 313h1M1353 313h4M1067 314h2M1349 314h4M1069 315h1M1283 315h6M1345 315h4M1070 316h1M1275 316h8M1289 316h4M1341 316h4M1071 317h1M1269 317h6M1293 317h4M1337 317h4M1072 318h1M1265 318h4M1297 318h4M1331 318h6M1073 319h1M1259 319h6M1301 319h30M1074 320h1M1253 320h6M1075 321h1M1249 321h4M1076 322h1M1243 322h6M1077 323h1M1238 323h5M1078 324h1M1235 324h3M1079 325h1M1233 325h2M1080 326h1M1229 326h4M1081 327h1M1225 327h4M1082 328h1M1222 328h3M1083 329h2M1219 329h3M1085 330h1M1217 330h2M1086 331h1M1215 331h2M1087 332h1M1213 332h2M1088 333h1M1211 333h2M1089 334h1M1210 334h1M1090 335h1M1208 335h2M1091 336h2M1207 336h1M1093 337h1M1205 337h2M1094 338h1M1203 338h2M1095 339h1M1202 339h1M1096 340h1M1200 340h2M1097 341h1M1199 341h1M1098 342h1M1197 342h2M1099 343h2M1195 343h2M1101 344h1M1194 344h1M1102 345h1M1192 345h2M1103 346h1M1191 346h1M1104 347h1M1189 347h2M1105 348h2M1187 348h2M1107 349h1M1186 349h1M1108 350h1M1184 350h2M1109 351h2M1183 351h1M1111 352h1M1181 352h2M1112 353h2M1179 353h2M1114 354h2M1178 354h1M1116 355h2M1176 355h2M1118 356h3M1174 356h2M1121 357h4M1171 357h3M1125 358h6M1169 358h2M1131 359h8M1163 359h6M1139 360h24" transform="translate(0 0.5)" fill="none" stroke="#ffa500" stroke-width="1"/>
<path d="M819 153h48M811 154h8M867 154h8M803 155h8M875 155h8M795 156h8M883 156h8M787 157h8M891 157h6M781 158h6M897 158h4M777 159h4M901 159h6M773 160h4M907 160h6M769 161h4M913 161h4M765 162h4M917 162h4M7 163h1M761 163h4M921 163h4M8 164h2M757 164h4M925 164h4M10 165h2M753 165h4M929 165h4M12 166h2M749 166h4M933 166h4M14 167h2M745 167h4M937 167h2M16 168h2M741 168h4M939 168h3M18 169h2M737 169h4M942 169h3M20 170h2M733 170h4M945 170h4M22 171h2M729 171h4M949 171h4M24 172h2M725 172h4M953 172h4M26 173h2M721 173h4M957 173h4M28 174h2M717 174h4M961 174h2M30 175h2M713 175h4M963 175h3M32 176h2M709 176h4M966 176h3M34 177h2M705 177h4M969 177h4M36 178h2M701 178h4M973 178h4M38 179h2M697 179h4M977 179h2M40 180h2M693 180h4M979 180h3M42 181h2M689 181h4M982 181h3M44 182h2M685 182h4M985 182h2M46 183h2M681 183h4M987 183h3M48 184h2M677 184h4M990 184h2M50 185h2M673 185h4M992 185h2M52 186h2M669 186h4M994 186h2M54 187h2M665 187h4M996 187h2M56 188h2M659 188h6M998 188h2M58 189h2M653 189h6M1000 189h1M60 190h2M649 190h4M1001 190h2M62 191h3M645 191h4M1003 191h1M65 192h2M641 192h4M1004 192h1M67 193h3M637 193h4M1005 193h2M70 194h3M633 194h4M1007 194h1M73 195h4M629 195h4M1008 195h2M77 196h4M625 196h4M1010 196h2M81 197h2M621 197h4M1012 197h2M83 198h3M617 198h4M1014 198h2M86 199h3M613 199h4M1016 199h2M89 200h2M609 200h4M1018 200h2M91 201h3M605 201h4M1020 201h2M94 202h3M601 202h4M1022 202h2M97 203h4M598 203h3M1024 203h2M101 204h4M595 204h3M1026 204h2M105 205h4M593 205h2M1028 205h2M109 206h4M589 206h4M1030 206h2M113 207h2M585 207h4M1032 207h2M115 208h3M581 208h4M1034 208h1M118 209h3M577 209h4M1035 209h2M121 210h4M573 210h4M1037 210h2M125 211h4M569 211h4M1039 211h1M129 212h4M566 212h3M1040 212h1M133 213h4M563 213h3M1041 213h2M137 214h4M561 214h2M1043 214h1M141 215h4M557 215h4M1044 215h1M145 216h2M553 216h4M1045 216h2M147 217h3M549 217h4M1047 217h1M150 218h3M545 218h4M1048 218h2M153 219h2M541 219h4M1050 219h1M155 220h3M537 220h4M1051 220h2M158 221h2M533 221h4M1053 221h2M160 222h2M529 222h4M1055 222h1M162 223h2M525 223h4M1056 223h2M164 224h2M521 224h4M1058 224h1M166 225h3M517 225h4M1059 225h2M169 226h2M513 226h4M1061 226h2M171 227h3M509 227h4M1063 227h1M174 228h3M505 228h4M1064 228h2M177 229h4M501 229h4M1066 229h2M181 230h4M497 230h4M1068 230h2M185 231h4M493 231h4M1070 231h2M189 232h6M489 232h4M1072 232h2M195 233h8M485 233h4M1074 233h1M203 234h8M481 234h4M1075 234h2M211 235h8M478 235h3M1077 235h2M219 236h8M475 236h3M1079 236h1M227 237h8M473 237h2M1080 237h2M235 238h8M470 238h3M1082 238h2M243 239h6M467 239h3M1084 239h2M1670 239h2M249 240h4M465 240h2M1086 240h2M1667 240h3M253 241h6M462 241h3M1088 241h2M1665 241h2M259 242h6M459 242h3M1090 242h1M1662 242h3M265 243h4M457 243h2M1091 243h2M1659 243h3M269 244h6M453 244h4M1093 244h2M1657 244h2M275 245h8M449 245h4M1095 245h1M1654 245h3M283 246h16M446 246h3M1096 246h2M1651 246h3M299 247h72M443 247h3M1098 247h2M1649 247h2M371 248h8M441 248h2M1100 248h2M1645 248h4M379 249h6M435 249h6M1102 249h2M1641 249h4M385 250h4M429 250h6M1104 250h2M1638 250h3M389 251h6M425 251h4M1106 251h2M1635 251h3M395 252h8M419 252h6M1108 252h2M1633 252h2M403 253h16M1110 253h2M1629 253h4M1112 254h2M1625 254h4M1114 255h2M1619 255h6M1116 256h2M1613 256h6M1118 257h3M1609 257h4M1121 258h2M1605 258h4M1123 259h3M1601 259h4M1126 260h3M1597 260h4M1129 261h2M1593 261h4M1131 262h3M1589 262h4M1134 263h3M1585 263h4M1137 264h2M1581 264h4M1139 265h3M1577 265h4M1142 266h3M1573 266h4M1145 267h2M1569 267h4M1147 268h3M1565 268h4M1150 269h3M1561 269h4M1153 270h2M1557 270h4M1155 271h3M1553 271h4M1158 272h3M1550 272h3M1161 273h4M1547 273h3M1165 274h4M1545 274h2M1169 275h2M1542 275h3M1171 276h3M1539 276h3M1174 277h3M1537 277h2M1177 278h2M1534 278h3M1179 279h3M1532 279h2M1182 280h3M1530 280h2M1185 281h2M1528 281h2M1187 282h3M1526 282h2M1190 283h3M1524 283h2M1193 284h2M1522 284h2M1195 285h3M1520 285h2M1198 286h3M1518 286h2M1201 287h2M1516 287h2M1203 288h3M1514 288h2M1206 289h3M1512 289h2M1209 290h2M1510 290h2M1211 291h3M1508 291h2M1214 292h3M1506 292h2M1217 293h4M1504 293h2M1221 294h4M1502 294h2M1225 295h4M1500 295h2M1229 296h4M1498 296h2M1233 297h2M1496 297h2M1235 298h3M1494 298h2M1238 299h3M1492 299h2M1241 300h4M1490 300h2M1245 301h4M1488 301h2M1249 302h4M1486 302h2M1253 303h4M1484 303h2M1257 304h4M1482 304h2M1261 305h4M1480 305h2M1265 306h4M1478 306h2M1269 307h4M1476 307h2M1273 308h4M1474 308h2M1277 309h4M1472 309h2M1281 310h4M1470 310h2M1285 311h6M1467 311h3M1291 312h6M1465 312h2M1297 313h4M1462 313h3M1301 314h6M1460 314h2M1307 315h8M1458 315h2M1315 316h8M1456 316h2M1323 317h8M1453 317h3M1331 318h8M1449 318h4M1339 319h8M1445 319h4M1347 320h16M1441 320h4M1363 321h16M1435 321h6M1379 322h56" transform="translate(0 0.5)" fill="none" stroke="#ff00ff" stroke-width="1"/>
<rect x="7" y="84" width="1685" height="2" fill="#ff0000"/>
<rect x="7" y="146" width="1685" height="2" fill="#ff0000"/>
<rect x="7" y="207" width="1685" height="2" fill="#32cd32"/>
<rect x="7" y="279" width="1685" height="2" fill="#4169e1"/>
<rect x="7" y="361" width="1685" height="2" fill="#4169e1"/>
</g>
<path d="M10 42 L17.4 42 L13.7 46.5 Z" fill="#000"/>
<text class="s" x="22.6" y="47" textLength="169" lengthAdjust="spacingAndGlyphs">UKOil-,H4&#160;&#160;31.116 31.187 30.570 30.660</text>
<text x="1381" y="439" font-size="32" fill="#ff2400" textLength="198" lengthAdjust="spacingAndGlyphs" style="font-family:'Noto Sans CJK SC','Liberation Sans',sans-serif">多空转折点29</text>
<g clip-path="url(#c2)" shape-rendering="crispEdges">
<rect x="7" y="548" width="1" height="34" fill="#c0c0c0"/>
<rect x="15" y="548" width="1" height="32" fill="#c0c0c0"/>
<rect x="23" y="548" width="1" height="33" fill="#c0c0c0"/>
<rect x="31" y="548" width="1" height="33" fill="#c0c0c0"/>
<rect x="39" y="548" width="1" height="29" fill="#c0c0c0"/>
<rect x="47" y="548" width="1" height="25" fill="#c0c0c0"/>
<rect x="55" y="548" width="1" height="21" fill="#c0c0c0"/>
<rect x="63" y="548" width="1" height="19" fill="#c0c0c0"/>
<rect x="71" y="548" width="1" height="16" fill="#c0c0c0"/>
<rect x="79" y="548" width="1" height="15" fill="#c0c0c0"/>
<rect x="87" y="548" width="1" height="14" fill="#c0c0c0"/>
<rect x="95" y="548" width="1" height="12" fill="#c0c0c0"/>
<rect x="103" y="548" width="1" height="10" fill="#c0c0c0"/>
<rect x="111" y="548" width="1" height="9" fill="#c0c0c0"/>
<rect x="119" y="548" width="1" height="11" fill="#c0c0c0"/>
<rect x="127" y="548" width="1" height="11" fill="#c0c0c0"/>
<rect x="135" y="548" width="1" height="9" fill="#c0c0c0"/>
<rect x="143" y="548" width="1" height="8" fill="#c0c0c0"/>
<rect x="151" y="548" width="1" height="8" fill="#c0c0c0"/>
<rect x="159" y="548" width="1" height="9" fill="#c0c0c0"/>
<rect x="167" y="548" width="1" height="9" fill="#c0c0c0"/>
<rect x="175" y="548" width="1" height="8" fill="#c0c0c0"/>
<rect x="183" y="548" width="1" height="9" fill="#c0c0c0"/>
<rect x="191" y="548" width="1" height="5" fill="#c0c0c0"/>
<rect x="199" y="548" width="1" height="2" fill="#c0c0c0"/>
<rect x="207" y="548" width="1" height="2" fill="#c0c0c0"/>
<rect x="215" y="548" width="1" height="1" fill="#c0c0c0"/>
<rect x="223" y="548" width="1" height="1" fill="#c0c0c0"/>
<rect x="231" y="547" width="1" height="2" fill="#c0c0c0"/>
<rect x="239" y="548" width="1" height="1" fill="#c0c0c0"/>
<rect x="247" y="548" width="1" height="1" fill="#c0c0c0"/>
<rect x="255" y="548" width="1" height="5" fill="#c0c0c0"/>
<rect x="263" y="548" width="1" height="7" fill="#c0c0c0"/>
<rect x="271" y="548" width="1" height="9" fill="#c0c0c0"/>
<rect x="279" y="548" width="1" height="9" fill="#c0c0c0"/>
<rect x="287" y="548" width="1" height="9" fill="#c0c0c0"/>
<rect x="295" y="548" width="1" height="8" fill="#c0c0c0"/>
<rect x="303" y="548" width="1" height="7" fill="#c0c0c0"/>
<rect x="311" y="548" width="1" height="6" fill="#c0c0c0"/>
<rect x="319" y="548" width="1" height="7" fill="#c0c0c0"/>
<rect x="327" y="548" width="1" height="8" fill="#c0c0c0"/>
<rect x="335" y="548" width="1" height="10" fill="#c0c0c0"/>
<rect x="343" y="548" width="1" height="11" fill="#c0c0c0"/>
<rect x="351" y="548" width="1" height="13" fill="#c0c0c0"/>
<rect x="359" y="548" width="1" height="14" fill="#c0c0c0"/>
<rect x="367" y="548" width="1" height="16" fill="#c0c0c0"/>
<rect x="375" y="548" width="1" height="16" fill="#c0c0c0"/>
<rect x="383" y="548" width="1" height="16" fill="#c0c0c0"/>
<rect x="391" y="548" width="1" height="14" fill="#c0c0c0"/>
<rect x="399" y="548" width="1" height="11" fill="#c0c0c0"/>
<rect x="407" y="548" width="1" height="7" fill="#c0c0c0"/>
<rect x="415" y="546" width="1" height="3" fill="#c0c0c0"/>
<rect x="423" y="539" width="1" height="10" fill="#c0c0c0"/>
<rect x="431" y="535" width="1" height="14" fill="#c0c0c0"/>
<rect x="439" y="533" width="1" height="16" fill="#c0c0c0"/>
<rect x="447" y="527" width="1" height="22" fill="#c0c0c0"/>
<rect x="455" y="518" width="1" height="31" fill="#c0c0c0"/>
<rect x="463" y="513" width="1" height="36" fill="#c0c0c0"/>
<rect x="471" y="505" width="1" height="44" fill="#c0c0c0"/>
<rect x="479" y="498" width="1" height="51" fill="#c0c0c0"/>
<rect x="487" y="500" width="1" height="49" fill="#c0c0c0"/>
<rect x="495" y="499" width="1" height="50" fill="#c0c0c0"/>
<rect x="503" y="498" width="1" height="51" fill="#c0c0c0"/>
<rect x="511" y="500" width="1" height="49" fill="#c0c0c0"/>
<rect x="519" y="501" width="1" height="48" fill="#c0c0c0"/>
<rect x="527" y="503" width="1" height="46" fill="#c0c0c0"/>
<rect x="535" y="504" width="1" height="45" fill="#c0c0c0"/>
<rect x="543" y="504" width="1" height="45" fill="#c0c0c0"/>
<rect x="551" y="506" width="1" height="43" fill="#c0c0c0"/>
<rect x="559" y="507" width="1" height="42" fill="#c0c0c0"/>
<rect x="567" y="511" width="1" height="38" fill="#c0c0c0"/>
<rect x="575" y="514" width="1" height="35" fill="#c0c0c0"/>
<rect x="583" y="518" width="1" height="31" fill="#c0c0c0"/>
<rect x="591" y="521" width="1" height="28" fill="#c0c0c0"/>
<rect x="599" y="524" width="1" height="25" fill="#c0c0c0"/>
<rect x="607" y="527" width="1" height="22" fill="#c0c0c0"/>
<rect x="615" y="530" width="1" height="19" fill="#c0c0c0"/>
<rect x="623" y="529" width="1" height="20" fill="#c0c0c0"/>
<rect x="631" y="528" width="1" height="21" fill="#c0c0c0"/>
<rect x="639" y="529" width="1" height="20" fill="#c0c0c0"/>
<rect x="647" y="528" width="1" height="21" fill="#c0c0c0"/>
<rect x="655" y="529" width="1" height="20" fill="#c0c0c0"/>
<rect x="663" y="530" width="1" height="19" fill="#c0c0c0"/>
<rect x="671" y="533" width="1" height="16" fill="#c0c0c0"/>
<rect x="679" y="537" width="1" height="12" fill="#c0c0c0"/>
<rect x="687" y="540" width="1" height="9" fill="#c0c0c0"/>
<rect x="695" y="541" width="1" height="8" fill="#c0c0c0"/>
<rect x="703" y="544" width="1" height="5" fill="#c0c0c0"/>
<rect x="711" y="548" width="1" height="1" fill="#c0c0c0"/>
<rect x="719" y="548" width="1" height="1" fill="#c0c0c0"/>
<rect x="727" y="548" width="1" height="1" fill="#c0c0c0"/>
<rect x="735" y="548" width="1" height="1" fill="#c0c0c0"/>
<rect x="743" y="548" width="1" height="1" fill="#c0c0c0"/>
<rect x="751" y="548" width="1" height="3" fill="#c0c0c0"/>
<rect x="759" y="548" width="1" height="4" fill="#c0c0c0"/>
<rect x="767" y="548" width="1" height="7" fill="#c0c0c0"/>
<rect x="775" y="548" width="1" height="11" fill="#c0c0c0"/>
<rect x="783" y="548" width="1" height="14" fill="#c0c0c0"/>
<rect x="791" y="548" width="1" height="16" fill="#c0c0c0"/>
<rect x="799" y="548" width="1" height="20" fill="#c0c0c0"/>
<rect x="807" y="548" width="1" height="23" fill="#c0c0c0"/>
<rect x="815" y="548" width="1" height="28" fill="#c0c0c0"/>
<rect x="823" y="548" width="1" height="30" fill="#c0c0c0"/>
<rect x="831" y="548" width="1" height="32" fill="#c0c0c0"/>
<rect x="839" y="548" width="1" height="32" fill="#c0c0c0"/>
<rect x="847" y="548" width="1" height="34" fill="#c0c0c0"/>
<rect x="855" y="548" width="1" height="32" fill="#c0c0c0"/>
<rect x="863" y="548" width="1" height="33" fill="#c0c0c0"/>
<rect x="871" y="548" width="1" height="30" fill="#c0c0c0"/>
<rect x="879" y="548" width="1" height="30" fill="#c0c0c0"/>
<rect x="887" y="548" width="1" height="28" fill="#c0c0c0"/>
<rect x="895" y="548" width="1" height="27" fill="#c0c0c0"/>
<rect x="903" y="548" width="1" height="25" fill="#c0c0c0"/>
<rect x="911" y="548" width="1" height="24" fill="#c0c0c0"/>
<rect x="919" y="548" width="1" height="22" fill="#c0c0c0"/>
<rect x="927" y="548" width="1" height="21" fill="#c0c0c0"/>
<rect x="935" y="548" width="1" height="19" fill="#c0c0c0"/>
<rect x="943" y="548" width="1" height="19" fill="#c0c0c0"/>
<rect x="951" y="548" width="1" height="20" fill="#c0c0c0"/>
<rect x="959" y="548" width="1" height="24" fill="#c0c0c0"/>
<rect x="967" y="548" width="1" height="24" fill="#c0c0c0"/>
<rect x="975" y="548" width="1" height="26" fill="#c0c0c0"/>
<rect x="983" y="548" width="1" height="27" fill="#c0c0c0"/>
<rect x="991" y="548" width="1" height="29" fill="#c0c0c0"/>
<rect x="999" y="548" width="1" height="37" fill="#c0c0c0"/>
<rect x="1007" y="548" width="1" height="46" fill="#c0c0c0"/>
<rect x="1015" y="548" width="1" height="55" fill="#c0c0c0"/>
<rect x="1023" y="548" width="1" height="62" fill="#c0c0c0"/>
<rect x="1031" y="548" width="1" height="67" fill="#c0c0c0"/>
<rect x="1039" y="548" width="1" height="75" fill="#c0c0c0"/>
<rect x="1047" y="548" width="1" height="81" fill="#c0c0c0"/>
<rect x="1055" y="548" width="1" height="79" fill="#c0c0c0"/>
<rect x="1063" y="548" width="1" height="75" fill="#c0c0c0"/>
<rect x="1071" y="548" width="1" height="67" fill="#c0c0c0"/>
<rect x="1079" y="548" width="1" height="65" fill="#c0c0c0"/>
<rect x="1087" y="548" width="1" height="60" fill="#c0c0c0"/>
<rect x="1095" y="548" width="1" height="55" fill="#c0c0c0"/>
<rect x="1103" y="548" width="1" height="50" fill="#c0c0c0"/>
<rect x="1111" y="548" width="1" height="43" fill="#c0c0c0"/>
<rect x="1119" y="548" width="1" height="40" fill="#c0c0c0"/>
<rect x="1127" y="548" width="1" height="27" fill="#c0c0c0"/>
<rect x="1135" y="548" width="1" height="19" fill="#c0c0c0"/>
<rect x="1143" y="548" width="1" height="11" fill="#c0c0c0"/>
<rect x="1151" y="548" width="1" height="6" fill="#c0c0c0"/>
<rect x="1159" y="548" width="1" height="2" fill="#c0c0c0"/>
<rect x="1167" y="546" width="1" height="3" fill="#c0c0c0"/>
<rect x="1175" y="544" width="1" height="5" fill="#c0c0c0"/>
<rect x="1183" y="543" width="1" height="6" fill="#c0c0c0"/>
<rect x="1191" y="545" width="1" height="4" fill="#c0c0c0"/>
<rect x="1199" y="546" width="1" height="3" fill="#c0c0c0"/>
<rect x="1207" y="548" width="1" height="1" fill="#c0c0c0"/>
<rect x="1215" y="548" width="1" height="2" fill="#c0c0c0"/>
<rect x="1223" y="548" width="1" height="4" fill="#c0c0c0"/>
<rect x="1231" y="548" width="1" height="6" fill="#c0c0c0"/>
<rect x="1239" y="548" width="1" height="7" fill="#c0c0c0"/>
<rect x="1247" y="548" width="1" height="9" fill="#c0c0c0"/>
<rect x="1255" y="548" width="1" height="9" fill="#c0c0c0"/>
<rect x="1263" y="548" width="1" height="8" fill="#c0c0c0"/>
<rect x="1271" y="548" width="1" height="7" fill="#c0c0c0"/>
<rect x="1279" y="548" width="1" height="7" fill="#c0c0c0"/>
<rect x="1287" y="548" width="1" height="6" fill="#c0c0c0"/>
<rect x="1295" y="548" width="1" height="5" fill="#c0c0c0"/>
<rect x="1303" y="548" width="1" height="1" fill="#c0c0c0"/>
<rect x="1311" y="548" width="1" height="1" fill="#c0c0c0"/>
<rect x="1319" y="546" width="1" height="3" fill="#c0c0c0"/>
<rect x="1327" y="540" width="1" height="9" fill="#c0c0c0"/>
<rect x="1335" y="537" width="1" height="12" fill="#c0c0c0"/>
<rect x="1343" y="533" width="1" height="16" fill="#c0c0c0"/>
<rect x="1351" y="531" width="1" height="18" fill="#c0c0c0"/>
<rect x="1359" y="529" width="1" height="20" fill="#c0c0c0"/>
<rect x="1367" y="527" width="1" height="22" fill="#c0c0c0"/>
<rect x="1375" y="525" width="1" height="24" fill="#c0c0c0"/>
<rect x="1383" y="526" width="1" height="23" fill="#c0c0c0"/>
<rect x="1391" y="525" width="1" height="24" fill="#c0c0c0"/>
<rect x="1399" y="527" width="1" height="22" fill="#c0c0c0"/>
<rect x="1407" y="527" width="1" height="22" fill="#c0c0c0"/>
<rect x="1415" y="528" width="1" height="21" fill="#c0c0c0"/>
<rect x="1423" y="530" width="1" height="19" fill="#c0c0c0"/>
<rect x="1431" y="530" width="1" height="19" fill="#c0c0c0"/>
<rect x="1439" y="532" width="1" height="17" fill="#c0c0c0"/>
<rect x="1447" y="533" width="1" height="16" fill="#c0c0c0"/>
<rect x="1455" y="533" width="1" height="16" fill="#c0c0c0"/>
<rect x="1463" y="531" width="1" height="18" fill="#c0c0c0"/>
<rect x="1471" y="530" width="1" height="19" fill="#c0c0c0"/>
<rect x="1479" y="526" width="1" height="23" fill="#c0c0c0"/>
<rect x="1487" y="523" width="1" height="26" fill="#c0c0c0"/>
<rect x="1495" y="521" width="1" height="28" fill="#c0c0c0"/>
<rect x="1503" y="517" width="1" height="32" fill="#c0c0c0"/>
<rect x="1511" y="512" width="1" height="37" fill="#c0c0c0"/>
<rect x="1519" y="507" width="1" height="42" fill="#c0c0c0"/>
<rect x="1527" y="506" width="1" height="43" fill="#c0c0c0"/>
<rect x="1535" y="506" width="1" height="43" fill="#c0c0c0"/>
<rect x="1543" y="506" width="1" height="43" fill="#c0c0c0"/>
<rect x="1551" y="511" width="1" height="38" fill="#c0c0c0"/>
<rect x="1559" y="512" width="1" height="37" fill="#c0c0c0"/>
<rect x="1567" y="516" width="1" height="33" fill="#c0c0c0"/>
<rect x="1575" y="518" width="1" height="31" fill="#c0c0c0"/>
<rect x="1583" y="521" width="1" height="28" fill="#c0c0c0"/>
<rect x="1591" y="519" width="1" height="30" fill="#c0c0c0"/>
<rect x="1599" y="519" width="1" height="30" fill="#c0c0c0"/>
<rect x="1607" y="524" width="1" height="25" fill="#c0c0c0"/>
<rect x="1615" y="527" width="1" height="22" fill="#c0c0c0"/>
<rect x="1623" y="529" width="1" height="20" fill="#c0c0c0"/>
<rect x="1631" y="529" width="1" height="20" fill="#c0c0c0"/>
<rect x="1639" y="531" width="1" height="18" fill="#c0c0c0"/>
<rect x="1647" y="532" width="1" height="17" fill="#c0c0c0"/>
<rect x="1655" y="531" width="1" height="18" fill="#c0c0c0"/>
<rect x="1663" y="530" width="1" height="19" fill="#c0c0c0"/>
<rect x="1671" y="531" width="1" height="18" fill="#c0c0c0"/>
<path d="M525 500h1M529 500h3M535 500h3M541 500h3M547 500h3M523 501h2M553 501h3M518 502h2M559 502h3M517 503h1M565 503h3M513 504h1M571 504h3M511 505h2M577 505h2M579 506h1M506 507h2M583 507h2M505 508h1M585 508h1M589 509h3M1563 509h1M1567 509h3M1573 509h3M500 510h2M595 510h3M1555 510h3M1561 510h2M1579 510h2M499 511h1M601 511h2M1549 511h3M1581 511h1M1585 511h2M603 512h1M1545 512h1M1587 512h1M1591 512h3M495 513h1M607 513h1M1543 513h2M1597 513h3M493 514h2M608 514h2M1537 514h3M1603 514h3M1609 515h2M613 516h1M1531 516h3M1611 516h1M488 517h2M614 517h2M1615 517h2M487 518h1M619 518h2M1526 518h2M1617 518h1M621 519h1M1525 519h1M1621 519h3M483 520h1M625 520h3M1521 520h1M1627 520h2M482 521h1M631 521h2M1519 521h2M1629 521h1M481 522h1M633 522h1M1515 522h1M1633 522h3M637 523h3M1513 523h2M1639 523h2M477 524h1M643 524h3M1509 524h1M1641 524h1M475 525h2M649 525h3M1507 525h2M1645 525h3M655 526h3M1411 526h3M1417 526h3M1423 526h3M1429 526h3M1435 526h3M1501 526h3M1651 526h3M1657 526h2M661 527h3M1399 527h3M1405 527h3M1441 527h3M1497 527h1M1659 527h1M1663 527h3M471 528h1M667 528h3M673 528h2M1393 528h3M1447 528h3M1491 528h1M1495 528h2M1669 528h3M470 529h1M675 529h1M679 529h3M1453 529h3M1459 529h3M1465 529h3M1471 529h3M1477 529h3M1483 529h3M1489 529h2M469 530h1M685 530h3M1387 530h3M691 531h3M697 532h3M1381 532h3M465 533h1M703 533h2M1377 533h1M464 534h1M705 534h1M1375 534h2M463 535h1M709 535h1M1371 535h1M710 536h2M1369 536h2M715 537h2M459 538h1M717 538h1M721 538h2M1363 538h3M457 539h2M723 539h1M727 539h2M729 540h1M1357 540h3M733 541h3M1353 541h1M453 542h1M1351 542h2M451 543h2M739 543h3M1347 543h1M1345 544h2M745 545h3M446 546h2M751 546h3M1219 546h3M1225 546h3M1231 546h2M1339 546h3M445 547h1M757 547h3M1213 547h3M1233 547h1M763 548h3M769 548h2M1207 548h3M1237 548h3M1333 548h3M235 549h3M241 549h3M247 549h3M253 549h3M259 549h3M265 549h3M271 549h2M440 549h2M771 549h1M775 549h3M1201 549h3M1243 549h3M1329 549h1M229 550h3M273 550h1M439 550h1M781 550h3M1249 550h3M1327 550h2M219 551h1M223 551h3M277 551h3M435 551h1M1195 551h3M1255 551h3M1321 551h3M211 552h3M217 552h2M283 552h3M289 552h2M433 552h2M787 552h3M1261 552h3M1315 552h3M205 553h3M291 553h1M295 553h3M429 553h1M1191 553h1M1267 553h3M1273 553h2M1309 553h3M195 554h1M199 554h3M301 554h3M427 554h2M793 554h3M1189 554h2M1275 554h1M1279 554h3M1285 554h3M1291 554h3M1297 554h3M1303 554h3M181 555h3M187 555h3M193 555h2M307 555h3M313 555h3M319 555h3M325 555h3M331 555h3M337 555h2M422 555h2M799 555h2M157 556h3M163 556h3M169 556h3M175 556h3M339 556h1M343 556h3M349 556h3M355 556h3M361 556h2M421 556h1M801 556h1M139 557h3M145 557h3M151 557h3M363 557h1M367 557h3M417 557h1M805 557h1M1184 557h2M133 558h3M373 558h3M415 558h2M806 558h2M1183 558h1M129 559h1M379 559h3M385 559h2M409 559h3M811 559h2M123 560h1M127 560h2M387 560h1M391 560h3M397 560h3M403 560h3M813 560h1M1179 560h1M115 561h3M121 561h2M817 561h1M1178 561h1M109 562h3M818 562h2M1177 562h1M105 563h1M103 564h2M823 564h2M1173 564h1M99 565h1M825 565h1M1171 565h2M97 566h2M829 566h1M830 567h2M91 568h3M835 568h2M1167 568h1M837 569h1M955 569h3M961 569h3M967 569h3M973 569h3M1166 569h1M85 570h3M841 570h2M949 570h3M979 570h3M985 570h3M991 570h2M1165 570h1M81 571h1M843 571h1M939 571h1M943 571h3M993 571h1M79 572h2M847 572h2M933 572h1M937 572h2M997 572h3M73 573h3M849 573h1M931 573h2M1161 573h1M67 574h3M853 574h3M925 574h3M1003 574h3M1160 574h1M61 575h3M859 575h2M915 575h1M919 575h3M1159 575h1M51 576h1M55 576h3M861 576h1M865 576h2M907 576h3M913 576h2M1009 576h2M19 577h3M25 577h3M31 577h3M37 577h3M43 577h3M49 577h2M867 577h1M871 577h3M877 577h3M883 577h3M889 577h3M895 577h3M901 577h3M1011 577h1M13 578h3M1015 578h1M1155 578h1M9 579h1M1016 579h2M1153 579h2M7 580h2M1021 582h2M1023 583h1M1149 583h1M1147 584h2M1027 585h1M1028 586h2M1143 588h1M1033 589h2M1142 589h1M1035 590h1M1141 590h1M1039 593h1M1137 593h1M1040 594h1M1136 594h1M1041 595h1M1135 595h1M1045 598h2M1131 598h1M1047 599h1M1130 599h1M1129 600h1M1051 602h1M1052 603h1M1125 603h1M1053 604h1M1123 604h2M1057 606h1M1058 607h1M1119 607h1M1059 608h1M1117 608h2M1063 610h1M1064 611h2M1112 611h2M1111 612h1M1107 613h1M1069 614h2M1105 614h2M1071 615h1M1101 615h1M1075 616h2M1099 616h2M1077 617h1M1081 617h2M1093 617h3M1083 618h1M1087 618h3" transform="translate(0 0.5)" fill="none" stroke="#ff0000" stroke-width="1"/>
</g>
<text class="s" x="11.5" y="502.3" textLength="127.5" lengthAdjust="spacingAndGlyphs">MACD(12,26,9) 0.6737 0.7261</text>
<g clip-path="url(#c3)" shape-rendering="crispEdges">
<line x1="7" y1="678.5" x2="1692" y2="678.5" stroke="#c0c0c0" stroke-width="1" stroke-dasharray="3 3"/>
<line x1="7" y1="731.5" x2="1692" y2="731.5" stroke="#c0c0c0" stroke-width="1" stroke-dasharray="3 3"/>
</g>
<g clip-path="url(#c3)" shape-rendering="crispEdges">
<path d="M1518 664h2M1515 665h3M1520 665h1M1513 666h2M1520 666h1M1510 667h3M1521 667h1M478 668h2M1507 668h3M1521 668h1M475 669h3M479 669h1M1505 669h2M1522 669h1M473 670h2M480 670h1M1503 670h2M1522 670h1M471 671h2M480 671h1M1501 671h2M1523 671h1M469 672h2M480 672h1M1500 672h1M1524 672h1M455 673h2M467 673h2M481 673h1M1499 673h1M1524 673h1M453 674h2M457 674h2M466 674h1M481 674h1M1497 674h2M1525 674h1M451 675h2M459 675h3M464 675h2M482 675h1M1496 675h1M1525 675h1M415 676h1M450 676h1M462 676h2M482 676h1M1486 676h10M1526 676h1M415 677h3M448 677h2M482 677h1M1484 677h2M1526 677h1M414 678h1M418 678h2M447 678h1M483 678h1M1327 678h1M1482 678h2M1527 678h10M414 679h1M420 679h2M446 679h1M483 679h1M1327 679h2M1480 679h2M1537 679h4M413 680h1M422 680h3M446 680h1M483 680h1M1326 680h1M1329 680h1M1478 680h2M1541 680h3M413 681h1M425 681h2M445 681h1M484 681h1M1326 681h1M1330 681h1M1476 681h2M1543 681h1M412 682h1M427 682h3M445 682h1M484 682h1M1325 682h1M1331 682h1M1373 682h3M1474 682h2M1544 682h1M1591 682h1M412 683h1M430 683h2M444 683h1M484 683h1M1325 683h1M1331 683h1M1369 683h4M1376 683h1M1472 683h2M1544 683h1M1590 683h1M1592 683h1M412 684h1M432 684h1M444 684h1M485 684h1M1324 684h1M1332 684h1M1342 684h2M1358 684h11M1377 684h1M1463 684h9M1545 684h1M1590 684h1M1593 684h1M411 685h1M433 685h1M443 685h1M485 685h1M542 685h3M1324 685h1M1333 685h1M1339 685h3M1344 685h2M1356 685h2M1377 685h1M1462 685h1M1545 685h1M1589 685h1M1593 685h1M411 686h1M434 686h1M442 686h1M486 686h1M494 686h11M539 686h3M545 686h4M1323 686h1M1334 686h1M1337 686h2M1346 686h2M1354 686h2M1378 686h1M1461 686h1M1546 686h1M1589 686h1M1594 686h1M410 687h1M435 687h1M442 687h1M486 687h1M492 687h2M505 687h2M537 687h2M549 687h6M1323 687h1M1335 687h2M1348 687h2M1352 687h2M1379 687h1M1391 687h1M1461 687h1M1546 687h1M1588 687h1M1595 687h1M410 688h1M435 688h1M441 688h1M486 688h1M490 688h2M507 688h3M523 688h14M555 688h5M1322 688h1M1350 688h2M1380 688h1M1389 688h2M1392 688h1M1460 688h1M1547 688h1M1588 688h1M1596 688h1M410 689h1M436 689h1M441 689h1M487 689h3M510 689h13M560 689h2M627 689h6M646 689h2M1322 689h1M1381 689h1M1387 689h2M1393 689h1M1459 689h1M1547 689h1M1587 689h1M1597 689h1M409 690h1M437 690h1M440 690h1M487 690h1M562 690h2M623 690h4M633 690h2M643 690h3M648 690h2M1127 690h1M1321 690h1M1381 690h1M1386 690h1M1394 690h1M1458 690h1M1547 690h1M1586 690h1M1597 690h1M409 691h1M438 691h1M440 691h1M564 691h2M622 691h1M635 691h3M641 691h2M650 691h2M1127 691h3M1321 691h1M1382 691h1M1384 691h2M1395 691h1M1457 691h1M1548 691h1M1586 691h1M1598 691h1M408 692h1M439 692h1M566 692h2M621 692h1M638 692h3M652 692h2M1126 692h1M1130 692h1M1320 692h1M1383 692h1M1395 692h1M1406 692h10M1457 692h1M1548 692h1M1559 692h4M1585 692h1M1599 692h1M1659 692h6M408 693h1M568 693h2M621 693h1M654 693h10M1126 693h1M1131 693h2M1320 693h1M1396 693h1M1404 693h2M1416 693h1M1456 693h1M1549 693h1M1557 693h2M1563 693h14M1585 693h1M1600 693h1M1654 693h5M1665 693h2M191 694h2M407 694h1M570 694h2M620 694h1M664 694h1M1126 694h1M1133 694h2M1139 694h6M1317 694h3M1397 694h1M1402 694h2M1417 694h1M1431 694h1M1454 694h2M1549 694h1M1556 694h1M1577 694h2M1584 694h1M1600 694h1M1652 694h2M1667 694h3M191 695h1M193 695h4M406 695h2M572 695h2M619 695h1M664 695h1M1125 695h1M1135 695h4M1145 695h2M1157 695h6M1313 695h4M1398 695h1M1400 695h2M1418 695h1M1429 695h2M1432 695h2M1451 695h3M1550 695h1M1555 695h1M1579 695h3M1584 695h1M1601 695h1M1650 695h2M1670 695h2M190 696h1M197 696h4M403 696h3M574 696h3M589 696h6M618 696h1M665 696h1M1125 696h1M1147 696h3M1153 696h4M1163 696h13M1303 696h10M1399 696h1M1419 696h2M1427 696h2M1434 696h1M1449 696h2M1550 696h1M1553 696h2M1582 696h2M1602 696h1M1630 696h2M1648 696h2M190 697h1M201 697h4M401 697h2M577 697h4M585 697h4M595 697h5M617 697h1M665 697h1M1125 697h1M1150 697h3M1176 697h2M1302 697h1M1421 697h1M1426 697h1M1435 697h2M1445 697h4M1551 697h2M1603 697h1M1627 697h3M1632 697h2M1646 697h2M189 698h1M205 698h3M399 698h2M581 698h4M600 698h2M617 698h1M666 698h1M1124 698h1M1178 698h1M1301 698h1M1422 698h1M1424 698h2M1437 698h2M1441 698h4M1551 698h1M1603 698h1M1625 698h2M1634 698h2M1643 698h3M189 699h1M208 699h1M398 699h1M602 699h1M616 699h1M666 699h1M1124 699h1M1179 699h2M1299 699h2M1423 699h1M1439 699h2M1604 699h1M1622 699h3M1636 699h2M1641 699h2M189 700h1M209 700h1M229 700h3M397 700h1M603 700h2M613 700h3M667 700h1M695 700h1M1124 700h1M1181 700h2M1298 700h1M1605 700h1M1619 700h3M1638 700h3M188 701h1M210 701h1M225 701h4M232 701h1M311 701h1M397 701h1M605 701h2M609 701h4M668 701h1M694 701h1M696 701h1M1123 701h1M1183 701h1M1297 701h1M1606 701h1M1617 701h2M188 702h1M211 702h1M222 702h3M233 702h1M309 702h2M312 702h1M396 702h1M607 702h2M668 702h1M693 702h1M696 702h1M1123 702h1M1184 702h2M1296 702h1M1606 702h1M1611 702h6M187 703h1M212 703h1M220 703h2M234 703h1M307 703h2M313 703h1M395 703h1M669 703h1M692 703h1M697 703h1M1123 703h1M1186 703h1M1278 703h3M1293 703h3M1607 703h4M61 704h12M99 704h13M135 704h10M187 704h1M213 704h1M218 704h2M235 704h1M306 704h1M314 704h1M394 704h1M669 704h1M691 704h1M698 704h1M742 704h2M1123 704h1M1187 704h2M1275 704h3M1281 704h4M1289 704h4M57 705h4M73 705h4M95 705h4M112 705h1M133 705h2M145 705h4M187 705h1M214 705h1M216 705h2M235 705h1M304 705h2M315 705h1M393 705h1M670 705h1M690 705h1M698 705h1M740 705h2M744 705h2M1122 705h1M1189 705h2M1273 705h2M1285 705h4M45 706h12M77 706h3M93 706h2M112 706h1M132 706h1M149 706h3M186 706h1M215 706h1M236 706h1M294 706h10M316 706h1M393 706h1M670 706h1M689 706h1M699 706h1M719 706h10M738 706h2M746 706h2M1122 706h1M1191 706h4M1270 706h3M41 707h4M80 707h2M91 707h2M113 707h1M131 707h1M152 707h1M186 707h1M237 707h1M292 707h2M317 707h1M392 707h1M671 707h2M688 707h1M700 707h1M718 707h1M729 707h4M736 707h2M748 707h2M1122 707h1M1195 707h5M1268 707h2M39 708h2M82 708h2M90 708h1M114 708h1M129 708h2M153 708h2M166 708h10M185 708h1M238 708h1M290 708h2M318 708h1M391 708h1M673 708h2M685 708h3M700 708h1M717 708h1M733 708h3M750 708h3M1121 708h1M1200 708h2M1266 708h2M38 709h1M84 709h2M88 709h2M115 709h1M128 709h1M155 709h1M164 709h2M176 709h1M185 709h1M239 709h4M288 709h2M319 709h1M390 709h1M675 709h3M681 709h4M701 709h1M716 709h1M753 709h2M1110 709h2M1121 709h1M1202 709h2M1251 709h8M1264 709h2M38 710h1M86 710h2M115 710h1M127 710h1M156 710h1M162 710h2M177 710h2M185 710h1M243 710h5M285 710h3M320 710h2M389 710h1M678 710h3M702 710h1M715 710h1M755 710h3M1108 710h2M1112 710h1M1121 710h1M1204 710h2M1211 710h13M1246 710h5M1259 710h5M37 711h1M116 711h1M125 711h2M157 711h2M160 711h2M179 711h1M184 711h1M248 711h2M281 711h4M322 711h1M387 711h2M702 711h1M714 711h1M758 711h2M1106 711h2M1113 711h2M1120 711h1M1206 711h5M1224 711h2M1244 711h2M36 712h1M117 712h1M123 712h2M159 712h1M180 712h1M184 712h1M250 712h2M261 712h4M277 712h4M323 712h2M386 712h1M703 712h2M713 712h1M760 712h1M1104 712h2M1115 712h1M1120 712h1M1226 712h1M1242 712h2M36 713h1M118 713h1M122 713h1M181 713h3M252 713h2M257 713h4M265 713h4M273 713h4M325 713h2M385 713h1M705 713h4M712 713h1M760 713h1M925 713h3M1102 713h2M1116 713h1M1120 713h1M1227 713h2M1240 713h2M35 714h1M118 714h1M120 714h2M183 714h1M254 714h3M269 714h4M327 714h4M384 714h1M709 714h3M761 714h1M903 714h12M921 714h4M928 714h1M1099 714h3M1117 714h3M1229 714h2M1235 714h5M34 715h1M119 715h1M331 715h8M383 715h1M762 715h1M901 715h2M915 715h6M929 715h2M1097 715h2M1119 715h1M1231 715h4M34 716h1M339 716h5M381 716h2M763 716h1M883 716h6M899 716h2M931 716h1M1094 716h3M7 717h10M33 717h1M344 717h2M358 717h2M379 717h2M763 717h1M855 717h1M871 717h12M889 717h2M898 717h1M932 717h1M1092 717h2M17 718h2M32 718h1M346 718h2M355 718h3M360 718h2M378 718h1M764 718h1M854 718h1M856 718h1M870 718h1M891 718h3M896 718h2M933 718h2M1090 718h2M19 719h3M32 719h1M348 719h2M353 719h2M362 719h1M376 719h2M765 719h1M854 719h1M857 719h1M869 719h1M894 719h2M935 719h4M1088 719h2M22 720h10M350 720h3M363 720h2M373 720h3M766 720h1M853 720h1M858 720h1M868 720h1M939 720h6M1086 720h2M365 721h2M369 721h4M766 721h1M771 721h21M853 721h1M859 721h1M867 721h1M945 721h2M1084 721h2M367 722h2M767 722h4M792 722h1M852 722h1M860 722h1M866 722h1M947 722h3M1082 722h2M793 723h1M852 723h1M861 723h1M865 723h1M950 723h2M1063 723h4M1080 723h2M794 724h1M851 724h1M862 724h1M864 724h1M952 724h1M1062 724h1M1067 724h13M795 725h1M851 725h1M863 725h1M953 725h1M1061 725h1M795 726h1M850 726h1M954 726h1M967 726h2M1060 726h1M796 727h1M850 727h1M955 727h1M965 727h2M969 727h2M1059 727h1M797 728h1M838 728h2M849 728h1M955 728h1M964 728h1M971 728h3M1058 728h1M798 729h1M835 729h3M840 729h2M849 729h1M956 729h1M963 729h1M974 729h5M1057 729h1M799 730h2M833 730h2M842 730h2M848 730h1M957 730h1M961 730h2M979 730h6M1056 730h1M801 731h4M823 731h10M844 731h2M848 731h1M958 731h1M960 731h1M985 731h2M1055 731h1M805 732h3M821 732h2M846 732h2M959 732h1M987 732h3M1055 732h1M808 733h2M819 733h2M990 733h2M1054 733h1M810 734h2M818 734h1M992 734h1M1054 734h1M812 735h2M816 735h2M992 735h1M1053 735h1M814 736h2M993 736h1M1053 736h1M994 737h1M1052 737h1M994 738h1M1052 738h1M995 739h1M1052 739h1M996 740h1M1051 740h1M996 741h1M1051 741h1M997 742h1M1050 742h1M998 743h1M1050 743h1M998 744h1M1050 744h1M999 745h1M1049 745h1M1000 746h2M1049 746h1M1002 747h1M1048 747h1M1003 748h2M1048 748h1M1005 749h2M1047 749h1M1007 750h2M1047 750h1M1009 751h2M1046 751h1M1011 752h3M1045 752h1M1014 753h18M1043 753h2M1032 754h2M1042 754h1M1034 755h2M1041 755h1M1036 756h2M1040 756h1M1038 757h2" transform="translate(0 0.5)" fill="none" stroke="#1e90ff" stroke-width="1"/>
</g>
<text class="s" x="11.5" y="650.3" textLength="67.5" lengthAdjust="spacingAndGlyphs">RSI(14) 57.3158</text>
<g shape-rendering="crispEdges">
<rect x="1693" y="55" width="2" height="1" fill="#000"/>
<rect x="1693" y="88" width="2" height="1" fill="#000"/>
<rect x="1693" y="121" width="2" height="1" fill="#000"/>
<rect x="1693" y="154" width="2" height="1" fill="#000"/>
<rect x="1693" y="187" width="2" height="1" fill="#000"/>
<rect x="1693" y="220" width="2" height="1" fill="#000"/>
<rect x="1693" y="253" width="2" height="1" fill="#000"/>
<rect x="1693" y="286" width="2" height="1" fill="#000"/>
<rect x="1693" y="319" width="2" height="1" fill="#000"/>
<rect x="1693" y="352" width="2" height="1" fill="#000"/>
<rect x="1693" y="385" width="2" height="1" fill="#000"/>
<rect x="1693" y="418" width="2" height="1" fill="#000"/>
<rect x="1693" y="451" width="2" height="1" fill="#000"/>
<rect x="1693" y="484" width="2" height="1" fill="#000"/>
<rect x="1693" y="491" width="1" height="1" fill="#000"/>
<rect x="1693" y="548" width="1" height="1" fill="#000"/>
<rect x="1693" y="633" width="1" height="1" fill="#000"/>
<rect x="1693" y="639" width="1" height="1" fill="#000"/>
<rect x="1693" y="678" width="1" height="1" fill="#000"/>
<rect x="1693" y="731" width="1" height="1" fill="#000"/>
<rect x="1693" y="769" width="1" height="1" fill="#000"/>
<rect x="7" y="772" width="1" height="3" fill="#000"/>
<rect x="71" y="772" width="1" height="3" fill="#000"/>
<rect x="135" y="772" width="1" height="3" fill="#000"/>
<rect x="199" y="772" width="1" height="3" fill="#000"/>
<rect x="263" y="772" width="1" height="3" fill="#000"/>
<rect x="327" y="772" width="1" height="3" fill="#000"/>
<rect x="391" y="772" width="1" height="3" fill="#000"/>
<rect x="455" y="772" width="1" height="3" fill="#000"/>
<rect x="519" y="772" width="1" height="3" fill="#000"/>
<rect x="583" y="772" width="1" height="3" fill="#000"/>
<rect x="647" y="772" width="1" height="3" fill="#000"/>
<rect x="711" y="772" width="1" height="3" fill="#000"/>
<rect x="775" y="772" width="1" height="3" fill="#000"/>
<rect x="839" y="772" width="1" height="3" fill="#000"/>
<rect x="903" y="772" width="1" height="3" fill="#000"/>
<rect x="967" y="772" width="1" height="3" fill="#000"/>
<rect x="1031" y="772" width="1" height="3" fill="#000"/>
<rect x="1095" y="772" width="1" height="3" fill="#000"/>
<rect x="1159" y="772" width="1" height="3" fill="#000"/>
<rect x="1223" y="772" width="1" height="3" fill="#000"/>
<rect x="1287" y="772" width="1" height="3" fill="#000"/>
<rect x="1351" y="772" width="1" height="3" fill="#000"/>
<rect x="1415" y="772" width="1" height="3" fill="#000"/>
<rect x="1479" y="772" width="1" height="3" fill="#000"/>
<rect x="1543" y="772" width="1" height="3" fill="#000"/>
<rect x="1607" y="772" width="1" height="3" fill="#000"/>
<rect x="1671" y="772" width="1" height="3" fill="#000"/>
</g>
<text class="s" x="1698" y="59" textLength="28" lengthAdjust="spacingAndGlyphs" fill="#000">36.465</text>
<text class="s" x="1698" y="92" textLength="28" lengthAdjust="spacingAndGlyphs" fill="#000">34.845</text>
<text class="s" x="1698" y="125" textLength="28" lengthAdjust="spacingAndGlyphs" fill="#000">33.270</text>
<text class="s" x="1698" y="158" textLength="28" lengthAdjust="spacingAndGlyphs" fill="#000">31.650</text>
<text class="s" x="1698" y="191" textLength="28" lengthAdjust="spacingAndGlyphs" fill="#000">30.030</text>
<text class="s" x="1698" y="224" textLength="28" lengthAdjust="spacingAndGlyphs" fill="#000">28.410</text>
<text class="s" x="1698" y="257" textLength="28" lengthAdjust="spacingAndGlyphs" fill="#000">26.835</text>
<text class="s" x="1698" y="290" textLength="28" lengthAdjust="spacingAndGlyphs" fill="#000">25.215</text>
<text class="s" x="1698" y="323" textLength="28" lengthAdjust="spacingAndGlyphs" fill="#000">23.595</text>
<text class="s" x="1698" y="356" textLength="28" lengthAdjust="spacingAndGlyphs" fill="#000">22.020</text>
<text class="s" x="1698" y="389" textLength="28" lengthAdjust="spacingAndGlyphs" fill="#000">20.400</text>
<text class="s" x="1698" y="422" textLength="28" lengthAdjust="spacingAndGlyphs" fill="#000">18.780</text>
<text class="s" x="1698" y="455" textLength="28" lengthAdjust="spacingAndGlyphs" fill="#000">17.160</text>
<text class="s" x="1698" y="488" textLength="28" lengthAdjust="spacingAndGlyphs" fill="#000">15.585</text>
<g shape-rendering="crispEdges">
<rect x="1694" y="80" width="33" height="11" fill="#ff0000"/>
<rect x="1694" y="141" width="33" height="11" fill="#ff0000"/>
<rect x="1694" y="169" width="33" height="11" fill="#000000"/>
<rect x="1694" y="202" width="33" height="11" fill="#32cd32"/>
<rect x="1694" y="275" width="33" height="11" fill="#4169e1"/>
<rect x="1694" y="357" width="33" height="11" fill="#4169e1"/>
</g>
<text class="s" x="1698" y="89" textLength="28" lengthAdjust="spacingAndGlyphs" fill="#ffffff" style="fill:#ffffff;stroke:#ffffff">35.000</text>
<text class="s" x="1698" y="150" textLength="28" lengthAdjust="spacingAndGlyphs" fill="#ffffff" style="fill:#ffffff;stroke:#ffffff">32.000</text>
<text class="s" x="1698" y="178" textLength="28" lengthAdjust="spacingAndGlyphs" fill="#ffffff" style="fill:#ffffff;stroke:#ffffff">30.660</text>
<text class="s" x="1698" y="211" textLength="28" lengthAdjust="spacingAndGlyphs" fill="#ffffff" style="fill:#ffffff;stroke:#ffffff">29.000</text>
<text class="s" x="1698" y="284" textLength="28" lengthAdjust="spacingAndGlyphs" fill="#ffffff" style="fill:#ffffff;stroke:#ffffff">25.500</text>
<text class="s" x="1698" y="366" textLength="28" lengthAdjust="spacingAndGlyphs" fill="#ffffff" style="fill:#ffffff;stroke:#ffffff">21.500</text>
<text class="s" x="1696" y="500" textLength="23" lengthAdjust="spacingAndGlyphs" fill="#000">2.084</text>
<text class="s" x="1696" y="552.3" textLength="18.3" lengthAdjust="spacingAndGlyphs" fill="#000">0.00</text>
<text class="s" x="1696" y="632.5" textLength="30" lengthAdjust="spacingAndGlyphs" fill="#000">-3.0957</text>
<text class="s" x="1696.5" y="648.2" textLength="14.5" lengthAdjust="spacingAndGlyphs" fill="#000">100</text>
<text class="s" x="1695.5" y="682" textLength="9.5" lengthAdjust="spacingAndGlyphs" fill="#000">70</text>
<text class="s" x="1695.5" y="735" textLength="9.5" lengthAdjust="spacingAndGlyphs" fill="#000">30</text>
<text class="s" x="1696" y="768" textLength="5" lengthAdjust="spacingAndGlyphs" fill="#000">0</text>
<text class="s" x="6.5" y="784" textLength="52.1" lengthAdjust="spacingAndGlyphs" fill="#000">23 Mar 2020</text>
<text class="s" x="70.5" y="784" textLength="54.7" lengthAdjust="spacingAndGlyphs" fill="#000">24 Mar 08:00</text>
<text class="s" x="134.5" y="784" textLength="54.7" lengthAdjust="spacingAndGlyphs" fill="#000">25 Mar 16:00</text>
<text class="s" x="198.5" y="784" textLength="54.7" lengthAdjust="spacingAndGlyphs" fill="#000">27 Mar 04:00</text>
<text class="s" x="262.5" y="784" textLength="54.7" lengthAdjust="spacingAndGlyphs" fill="#000">30 Mar 08:00</text>
<text class="s" x="326.5" y="784" textLength="54.7" lengthAdjust="spacingAndGlyphs" fill="#000">31 Mar 16:00</text>
<text class="s" x="390.5" y="784" textLength="48.0" lengthAdjust="spacingAndGlyphs" fill="#000">2 Apr 00:00</text>
<text class="s" x="454.5" y="784" textLength="48.0" lengthAdjust="spacingAndGlyphs" fill="#000">3 Apr 08:00</text>
<text class="s" x="518.5" y="784" textLength="48.0" lengthAdjust="spacingAndGlyphs" fill="#000">6 Apr 12:00</text>
<text class="s" x="582.5" y="784" textLength="48.0" lengthAdjust="spacingAndGlyphs" fill="#000">7 Apr 20:00</text>
<text class="s" x="646.5" y="784" textLength="48.0" lengthAdjust="spacingAndGlyphs" fill="#000">9 Apr 04:00</text>
<text class="s" x="710.5" y="784" textLength="53.1" lengthAdjust="spacingAndGlyphs" fill="#000">13 Apr 08:00</text>
<text class="s" x="774.5" y="784" textLength="53.1" lengthAdjust="spacingAndGlyphs" fill="#000">14 Apr 16:00</text>
<text class="s" x="838.5" y="784" textLength="53.1" lengthAdjust="spacingAndGlyphs" fill="#000">16 Apr 00:00</text>
<text class="s" x="902.5" y="784" textLength="53.1" lengthAdjust="spacingAndGlyphs" fill="#000">17 Apr 08:00</text>
<text class="s" x="966.5" y="784" textLength="53.1" lengthAdjust="spacingAndGlyphs" fill="#000">20 Apr 12:00</text>
<text class="s" x="1030.5" y="784" textLength="53.1" lengthAdjust="spacingAndGlyphs" fill="#000">21 Apr 20:00</text>
<text class="s" x="1094.5" y="784" textLength="53.1" lengthAdjust="spacingAndGlyphs" fill="#000">23 Apr 04:00</text>
<text class="s" x="1158.5" y="784" textLength="53.1" lengthAdjust="spacingAndGlyphs" fill="#000">24 Apr 16:00</text>
<text class="s" x="1222.5" y="784" textLength="53.1" lengthAdjust="spacingAndGlyphs" fill="#000">27 Apr 20:00</text>
<text class="s" x="1286.5" y="784" textLength="53.1" lengthAdjust="spacingAndGlyphs" fill="#000">29 Apr 04:00</text>
<text class="s" x="1350.5" y="784" textLength="53.1" lengthAdjust="spacingAndGlyphs" fill="#000">30 Apr 12:00</text>
<text class="s" x="1414.5" y="784" textLength="51.1" lengthAdjust="spacingAndGlyphs" fill="#000">1 May 20:00</text>
<text class="s" x="1478.5" y="784" textLength="51.1" lengthAdjust="spacingAndGlyphs" fill="#000">5 May 00:00</text>
<text class="s" x="1542.5" y="784" textLength="51.1" lengthAdjust="spacingAndGlyphs" fill="#000">6 May 08:00</text>
<text class="s" x="1606.5" y="784" textLength="51.1" lengthAdjust="spacingAndGlyphs" fill="#000">7 May 16:00</text>
<text class="s" x="1670.5" y="784" textLength="56.2" lengthAdjust="spacingAndGlyphs" fill="#000">10 May 23:00</text>
</svg></body></html>
